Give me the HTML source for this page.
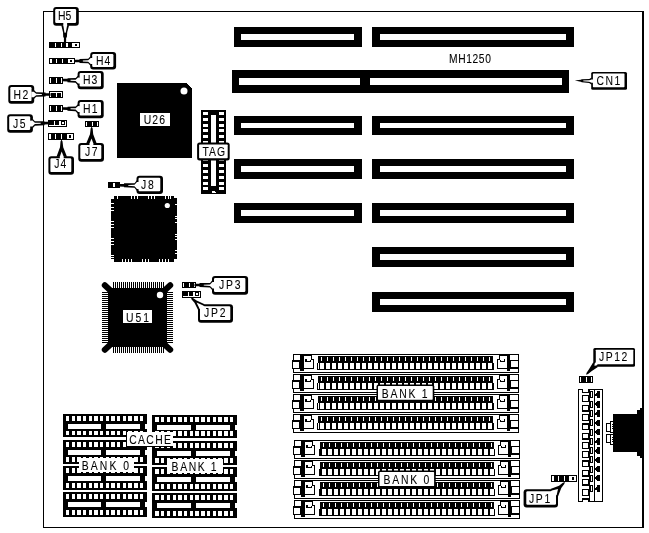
<!DOCTYPE html>
<html><head><meta charset="utf-8"><title>MH1250</title>
<style>html,body{margin:0;padding:0;background:#fff}svg{display:block}text{font-family:"Liberation Sans",Arial,sans-serif}</style>
</head><body>
<svg width="649" height="533" viewBox="0 0 649 533" shape-rendering="crispEdges">
<rect x="0" y="0" width="649" height="533" fill="#fff"/>
<rect x="43" y="11" width="601" height="1" fill="#000" />
<rect x="43" y="11" width="1" height="517" fill="#000" />
<rect x="642" y="11" width="2" height="517" fill="#000" />
<rect x="43" y="527" width="601" height="1" fill="#000" />
<rect x="234" y="27" width="128" height="20" fill="#000" />
<rect x="241" y="34" width="113" height="6" fill="#fff" />
<rect x="234" y="116" width="128" height="19" fill="#000" />
<rect x="241" y="123" width="113" height="5" fill="#fff" />
<rect x="234" y="159" width="128" height="20" fill="#000" />
<rect x="241" y="166" width="113" height="6" fill="#fff" />
<rect x="234" y="203" width="128" height="20" fill="#000" />
<rect x="241" y="210" width="113" height="6" fill="#fff" />
<rect x="372" y="27" width="202" height="20" fill="#000" />
<rect x="380" y="34" width="186" height="6" fill="#fff" />
<rect x="372" y="116" width="202" height="19" fill="#000" />
<rect x="380" y="123" width="186" height="5" fill="#fff" />
<rect x="372" y="159" width="202" height="20" fill="#000" />
<rect x="380" y="166" width="186" height="6" fill="#fff" />
<rect x="372" y="203" width="202" height="20" fill="#000" />
<rect x="380" y="210" width="186" height="6" fill="#fff" />
<rect x="372" y="247" width="202" height="20" fill="#000" />
<rect x="380" y="254" width="186" height="6" fill="#fff" />
<rect x="372" y="292" width="202" height="20" fill="#000" />
<rect x="380" y="299" width="186" height="6" fill="#fff" />
<rect x="232" y="70" width="337" height="23" fill="#000" />
<rect x="239" y="78" width="121" height="7" fill="#fff" />
<rect x="370" y="78" width="192" height="7" fill="#fff" />
<rect x="49" y="42" width="31" height="6" fill="#000" />
<rect x="54.8" y="43" width="1.2" height="4" fill="#fff" />
<rect x="61" y="43" width="1.1" height="4" fill="#fff" />
<rect x="66" y="43" width="1.9" height="4" fill="#fff" />
<rect x="72.1" y="43" width="6.9" height="4" fill="#fff" />
<rect x="74.55" y="44" width="2" height="2" fill="#000" />
<rect x="49" y="58" width="26" height="6" fill="#000" />
<rect x="50.2" y="59" width="1.5" height="4" fill="#fff" />
<rect x="56" y="59" width="1" height="4" fill="#fff" />
<rect x="61.9" y="59" width="1" height="4" fill="#fff" />
<rect x="67.9" y="59" width="6.1" height="4" fill="#fff" />
<rect x="69.95" y="60" width="2" height="2" fill="#000" />
<rect x="48.9" y="77" width="14.1" height="7" fill="#000" />
<rect x="49.9" y="78" width="1" height="5" fill="#fff" />
<rect x="55.55" y="78" width="1.1" height="5" fill="#fff" />
<rect x="60.9" y="78" width="1.1" height="5" fill="#fff" />
<rect x="48.9" y="91" width="14.1" height="6.9" fill="#000" />
<rect x="50" y="92" width="12" height="1" fill="#fff" />
<rect x="50" y="93" width="1" height="4" fill="#fff" />
<rect x="56" y="93" width="1" height="4" fill="#fff" />
<rect x="61" y="93" width="1" height="4" fill="#fff" />
<rect x="48.9" y="105.2" width="14.1" height="6.6" fill="#000" />
<rect x="49.9" y="106.2" width="1" height="4.6" fill="#fff" />
<rect x="55.55" y="106.2" width="1.1" height="4.6" fill="#fff" />
<rect x="60.9" y="106.2" width="1.1" height="4.6" fill="#fff" />
<rect x="47.9" y="120" width="19.1" height="7" fill="#000" />
<rect x="48.9" y="124.8" width="17.1" height="1.2" fill="#fff" />
<rect x="54.1" y="121" width="1" height="3.8" fill="#fff" />
<rect x="58.7" y="121" width="1.1" height="3.8" fill="#fff" />
<rect x="60" y="121" width="6" height="5" fill="#fff" />
<rect x="61.1" y="121" width="3.9" height="3.8" fill="#000" />
<rect x="62.1" y="122" width="1.9" height="1.7" fill="#fff" />
<rect x="85.1" y="121" width="13.9" height="6" fill="#000" />
<rect x="86.1" y="122" width="1" height="4" fill="#fff" />
<rect x="91.65" y="122" width="1.1" height="4" fill="#fff" />
<rect x="96.9" y="122" width="1.1" height="4" fill="#fff" />
<rect x="47.9" y="133.2" width="25.9" height="6.8" fill="#000" />
<rect x="49.1" y="134.2" width="1.8" height="4.8" fill="#fff" />
<rect x="54.8" y="134.2" width="1.2" height="4.8" fill="#fff" />
<rect x="60.8" y="134.2" width="1.2" height="4.8" fill="#fff" />
<rect x="66.9" y="134.2" width="5.9" height="4.8" fill="#fff" />
<rect x="68.85" y="135.2" width="2" height="2.8" fill="#000" />
<rect x="108" y="181.7" width="12.3" height="6.7" fill="#000" />
<rect x="113.2" y="182.7" width="1.6" height="4.7" fill="#fff" />
<rect x="181.9" y="281.9" width="14.1" height="6" fill="#000" />
<rect x="182.9" y="282.9" width="1" height="4" fill="#fff" />
<rect x="188.55" y="282.9" width="1.1" height="4" fill="#fff" />
<rect x="193.9" y="282.9" width="1.1" height="4" fill="#fff" />
<rect x="181.9" y="291" width="19.1" height="7" fill="#000" />
<rect x="182.9" y="295.8" width="17.1" height="1.2" fill="#fff" />
<rect x="188.1" y="292" width="1" height="3.8" fill="#fff" />
<rect x="192.7" y="292" width="1.1" height="3.8" fill="#fff" />
<rect x="194" y="292" width="6" height="5" fill="#fff" />
<rect x="195.1" y="292" width="3.9" height="3.8" fill="#000" />
<rect x="196.1" y="293" width="1.9" height="1.7" fill="#fff" />
<rect x="579" y="376" width="14" height="6.6" fill="#000" />
<rect x="580" y="377" width="1" height="4.6" fill="#fff" />
<rect x="585.6" y="377" width="1.1" height="4.6" fill="#fff" />
<rect x="590.9" y="377" width="1.1" height="4.6" fill="#fff" />
<rect x="551.3" y="475" width="25.7" height="6.6" fill="#000" />
<rect x="552.3" y="476" width="1.2" height="4.6" fill="#fff" />
<rect x="557.5" y="476" width="1.5" height="4.6" fill="#fff" />
<rect x="563.6" y="476" width="1.4" height="4.6" fill="#fff" />
<rect x="569.3" y="476" width="6.7" height="4.6" fill="#fff" />
<rect x="571.65" y="477" width="2" height="2.6" fill="#000" />
<rect x="53.2" y="7" width="25.6" height="18.7" rx="3" ry="3" fill="#000" shape-rendering="geometricPrecision"/>
<rect x="55.2" y="9" width="20.9" height="14" rx="1.2" ry="1.2" fill="#fff" shape-rendering="geometricPrecision"/>
<polygon points="61.30,25.19 63.02,32.17 63.25,37.48 63.95,37.49 63.89,42.49 66.09,42.51 66.15,37.51 66.85,37.52 67.22,32.22 69.10,25.21" fill="#000" shape-rendering="geometricPrecision"/>
<polygon points="63.31,22.81 63.28,25.21 64.42,32.19 64.66,32.75 65.56,32.77 65.82,32.21 67.12,25.19 67.15,22.79" fill="#fff" shape-rendering="geometricPrecision"/>
<rect x="90.2" y="52" width="25.9" height="17.6" rx="3" ry="3" fill="#000" shape-rendering="geometricPrecision"/>
<rect x="92.2" y="54" width="21.2" height="12.9" rx="1.2" ry="1.2" fill="#fff" shape-rendering="geometricPrecision"/>
<polygon points="90.70,56.10 88.20,58.70 79.50,59.00 79.50,59.70 74.50,59.70 74.50,62.30 79.50,62.30 79.50,63.00 88.20,63.30 90.70,65.90" fill="#000" shape-rendering="geometricPrecision"/>
<polygon points="93.10,58.08 90.70,58.08 88.20,60.30 82.85,60.55 82.85,61.45 88.20,61.70 90.70,63.92 93.10,63.92" fill="#fff" shape-rendering="geometricPrecision"/>
<rect x="77.6" y="70.9" width="26.1" height="18.3" rx="3" ry="3" fill="#000" shape-rendering="geometricPrecision"/>
<rect x="79.6" y="72.9" width="21.4" height="13.6" rx="1.2" ry="1.2" fill="#fff" shape-rendering="geometricPrecision"/>
<polygon points="78.13,75.60 75.68,78.12 67.56,78.15 67.54,78.85 62.54,78.68 62.46,81.28 67.45,81.45 67.43,82.15 75.53,82.72 78.07,85.40" fill="#000" shape-rendering="geometricPrecision"/>
<polygon points="80.46,77.66 78.06,77.58 75.62,79.72 70.56,79.80 70.54,80.70 75.58,81.12 78.14,83.42 80.53,83.50" fill="#fff" shape-rendering="geometricPrecision"/>
<rect x="8.3" y="85" width="25.9" height="18.8" rx="3" ry="3" fill="#000" shape-rendering="geometricPrecision"/>
<rect x="10.3" y="87" width="21.2" height="14.1" rx="1.2" ry="1.2" fill="#fff" shape-rendering="geometricPrecision"/>
<polygon points="33.70,89.70 36.20,92.20 45.50,92.50 45.50,93.20 50.50,93.20 50.50,95.80 45.50,95.80 45.50,96.50 36.20,96.80 33.70,99.30" fill="#000" shape-rendering="geometricPrecision"/>
<polygon points="31.30,91.68 33.70,91.68 36.20,93.80 41.85,94.05 41.85,94.95 36.20,95.20 33.70,97.32 31.30,97.32" fill="#fff" shape-rendering="geometricPrecision"/>
<rect x="77.6" y="100" width="26.1" height="18.2" rx="3" ry="3" fill="#000" shape-rendering="geometricPrecision"/>
<rect x="79.6" y="102" width="21.4" height="13.5" rx="1.2" ry="1.2" fill="#fff" shape-rendering="geometricPrecision"/>
<polygon points="78.13,104.10 75.68,106.62 67.56,106.65 67.54,107.35 62.54,107.18 62.46,109.78 67.45,109.95 67.43,110.65 75.53,111.22 78.07,113.90" fill="#000" shape-rendering="geometricPrecision"/>
<polygon points="80.46,106.16 78.06,106.08 75.62,108.22 70.56,108.30 70.54,109.20 75.58,109.62 78.14,111.92 80.53,112.00" fill="#fff" shape-rendering="geometricPrecision"/>
<rect x="7.2" y="114.2" width="25.7" height="18.5" rx="3" ry="3" fill="#000" shape-rendering="geometricPrecision"/>
<rect x="9.2" y="116.2" width="21" height="13.8" rx="1.2" ry="1.2" fill="#fff" shape-rendering="geometricPrecision"/>
<polygon points="32.37,118.60 34.83,121.13 44.44,121.14 44.46,121.84 49.46,121.69 49.54,124.28 44.54,124.43 44.56,125.13 34.97,125.72 32.43,128.40" fill="#000" shape-rendering="geometricPrecision"/>
<polygon points="30.03,120.65 32.43,120.58 34.88,122.73 40.69,122.80 40.71,123.70 34.92,124.12 32.37,126.42 29.97,126.49" fill="#fff" shape-rendering="geometricPrecision"/>
<rect x="78.3" y="143" width="25.7" height="18.7" rx="3" ry="3" fill="#000" shape-rendering="geometricPrecision"/>
<rect x="80.3" y="145" width="21" height="14" rx="1.2" ry="1.2" fill="#fff" shape-rendering="geometricPrecision"/>
<polygon points="86.20,143.48 89.99,134.13 90.67,128.49 91.70,126.50 92.67,128.51 93.19,134.17 96.70,143.52" fill="#000" shape-rendering="geometricPrecision"/>
<polygon points="89.46,145.93 89.50,143.53 91.53,138.40 93.40,143.47 93.36,145.87" fill="#fff" shape-rendering="geometricPrecision"/>
<rect x="48.4" y="156.2" width="25.6" height="18.6" rx="3" ry="3" fill="#000" shape-rendering="geometricPrecision"/>
<rect x="50.4" y="158.2" width="20.9" height="13.9" rx="1.2" ry="1.2" fill="#fff" shape-rendering="geometricPrecision"/>
<polygon points="56.50,156.72 60.01,147.26 60.53,141.51 61.50,139.50 62.53,141.49 63.21,147.22 67.00,156.68" fill="#000" shape-rendering="geometricPrecision"/>
<polygon points="59.83,159.07 59.80,156.67 61.67,151.54 63.70,156.73 63.74,159.13" fill="#fff" shape-rendering="geometricPrecision"/>
<rect x="136.5" y="175.8" width="26.5" height="18.1" rx="3" ry="3" fill="#000" shape-rendering="geometricPrecision"/>
<rect x="138.5" y="177.8" width="21.8" height="13.4" rx="1.2" ry="1.2" fill="#fff" shape-rendering="geometricPrecision"/>
<polygon points="137.01,180.10 134.53,183.17 124.02,183.35 124.01,184.05 119.01,183.99 118.99,186.59 123.98,186.65 123.98,187.35 134.47,187.77 136.99,190.90" fill="#000" shape-rendering="geometricPrecision"/>
<polygon points="139.39,182.11 136.99,182.08 134.51,184.77 128.26,184.95 128.24,185.85 134.49,186.17 137.01,188.92 139.41,188.95" fill="#fff" shape-rendering="geometricPrecision"/>
<rect x="212" y="275.9" width="36.1" height="18.8" rx="3" ry="3" fill="#000" shape-rendering="geometricPrecision"/>
<rect x="214" y="277.9" width="31.4" height="14.1" rx="1.2" ry="1.2" fill="#fff" shape-rendering="geometricPrecision"/>
<polygon points="212.51,280.10 210.03,282.91 199.53,283.06 199.52,283.76 194.52,283.69 194.48,286.29 199.48,286.36 199.47,287.06 209.97,287.51 212.49,290.40" fill="#000" shape-rendering="geometricPrecision"/>
<polygon points="214.88,282.11 212.48,282.08 210.01,284.51 203.76,284.68 203.74,285.57 209.99,285.91 212.52,288.42 214.92,288.45" fill="#fff" shape-rendering="geometricPrecision"/>
<rect x="198" y="304.3" width="35" height="18.5" rx="3" ry="3" fill="#000" shape-rendering="geometricPrecision"/>
<rect x="200" y="306.3" width="30.3" height="13.8" rx="1.2" ry="1.2" fill="#fff" shape-rendering="geometricPrecision"/>
<polygon points="197.99,309.66 194.45,302.80 191.60,299.39 190.80,297.30 192.95,297.91 196.60,300.44 204.61,304.14" fill="#000" shape-rendering="geometricPrecision"/>
<polygon points="201.10,309.82 199.33,308.20 196.58,302.58 203.27,305.60 205.04,307.22" fill="#fff" shape-rendering="geometricPrecision"/>
<rect x="591.2" y="71.9" width="35.8" height="17.8" rx="1.5" ry="1.5" fill="#000" shape-rendering="geometricPrecision"/>
<rect x="592.9" y="73.5" width="31.6" height="13.7" rx="0.6" ry="0.6" fill="#fff" shape-rendering="geometricPrecision"/>
<polygon points="591.72,77.40 589.25,78.98 581.84,79.29 580.82,79.86 574.80,80.60 580.77,81.66 581.76,82.29 589.15,82.98 591.68,84.70" fill="#000" shape-rendering="geometricPrecision"/>
<polygon points="594.07,79.44 591.67,79.38 589.22,80.28 583.26,80.38 583.24,81.27 589.18,81.68 591.73,82.72 594.13,82.78" fill="#fff" shape-rendering="geometricPrecision"/>
<rect x="593.3" y="348.1" width="41.7" height="18.6" rx="1.5" ry="1.5" fill="#000" shape-rendering="geometricPrecision"/>
<rect x="595.8" y="349.7" width="37.5" height="14.5" rx="0.6" ry="0.6" fill="#fff" shape-rendering="geometricPrecision"/>
<polygon points="593.24,362.19 589.13,369.10 586.63,372.66 586.00,374.80 588.10,374.02 591.47,371.28 597.86,366.91" fill="#000" shape-rendering="geometricPrecision"/>
<polygon points="596.33,361.78 594.69,363.54 594.40,365.78 596.41,365.56 598.05,363.81" fill="#fff" shape-rendering="geometricPrecision"/>
<rect x="523.6" y="489.2" width="34.4" height="18.3" rx="3" ry="3" fill="#000" shape-rendering="geometricPrecision"/>
<rect x="526.3" y="491.2" width="29.7" height="13.6" rx="1.2" ry="1.2" fill="#fff" shape-rendering="geometricPrecision"/>
<polygon points="550.37,489.06 559.04,485.63 562.87,482.69 565.00,482.00 564.28,484.12 561.29,487.91 558.13,496.14" fill="#000" shape-rendering="geometricPrecision"/>
<polygon points="550.05,492.15 551.76,490.47 558.01,488.89 556.74,494.73 555.03,496.42" fill="#fff" shape-rendering="geometricPrecision"/>
<polygon points="117,83 186,83 192,89 192,158 117,158" fill="#000"/>
<circle cx="184" cy="91" r="3.5" fill="#fff" shape-rendering="geometricPrecision"/>
<rect x="140.2" y="113.1" width="29.3" height="13.2" fill="#fff" />
<rect x="201" y="110" width="25" height="83.6" fill="#000" />
<rect x="211" y="115" width="5" height="70.6" fill="#fff" />
<polygon points="211.3,193.2 212.6,190.6 214.6,190.6 215.9,193.2" fill="#fff"/>
<rect x="203" y="112" width="5" height="3" fill="#fff" />
<rect x="219" y="112" width="5" height="3" fill="#fff" />
<rect x="203" y="117.8" width="5" height="3" fill="#fff" />
<rect x="219" y="117.8" width="5" height="3" fill="#fff" />
<rect x="203" y="123.6" width="5" height="3" fill="#fff" />
<rect x="219" y="123.6" width="5" height="3" fill="#fff" />
<rect x="203" y="129.4" width="5" height="3" fill="#fff" />
<rect x="219" y="129.4" width="5" height="3" fill="#fff" />
<rect x="203" y="135.2" width="5" height="3" fill="#fff" />
<rect x="219" y="135.2" width="5" height="3" fill="#fff" />
<rect x="203" y="141" width="5" height="3" fill="#fff" />
<rect x="219" y="141" width="5" height="3" fill="#fff" />
<rect x="203" y="146.8" width="5" height="3" fill="#fff" />
<rect x="219" y="146.8" width="5" height="3" fill="#fff" />
<rect x="203" y="152.6" width="5" height="3" fill="#fff" />
<rect x="219" y="152.6" width="5" height="3" fill="#fff" />
<rect x="203" y="158.4" width="5" height="3" fill="#fff" />
<rect x="219" y="158.4" width="5" height="3" fill="#fff" />
<rect x="203" y="164.2" width="5" height="3" fill="#fff" />
<rect x="219" y="164.2" width="5" height="3" fill="#fff" />
<rect x="203" y="170" width="5" height="3" fill="#fff" />
<rect x="219" y="170" width="5" height="3" fill="#fff" />
<rect x="203" y="175.8" width="5" height="3" fill="#fff" />
<rect x="219" y="175.8" width="5" height="3" fill="#fff" />
<rect x="203" y="181.6" width="5" height="3" fill="#fff" />
<rect x="219" y="181.6" width="5" height="3" fill="#fff" />
<rect x="203" y="187.4" width="5" height="3" fill="#fff" />
<rect x="219" y="187.4" width="5" height="3" fill="#fff" />
<rect x="197.1" y="142.6" width="32.6" height="17.9" rx="2.5" ry="2.5" fill="#000" shape-rendering="geometricPrecision"/>
<rect x="199.1" y="144.6" width="28.6" height="13.6" rx="0.7" ry="0.7" fill="#fff" shape-rendering="geometricPrecision"/>
<polygon points="114,195.5 174,195.5 174,198 177,198 177,259 174,259 174,262 114,262 114,259 111,259 111,199 114,199" fill="#000"/>
<rect x="116.8" y="195.5" width="1" height="3" fill="#fff" />
<rect x="131.2" y="195.5" width="1" height="3" fill="#fff" />
<rect x="134.1" y="195.5" width="1" height="3" fill="#fff" />
<rect x="137" y="195.5" width="1" height="3" fill="#fff" />
<rect x="147.8" y="195.5" width="1" height="3" fill="#fff" />
<rect x="150.7" y="195.5" width="1" height="3" fill="#fff" />
<rect x="154" y="195.5" width="1" height="3" fill="#fff" />
<rect x="165.1" y="195.5" width="1" height="3" fill="#fff" />
<rect x="168" y="195.5" width="1" height="3" fill="#fff" />
<rect x="170.4" y="195.5" width="1" height="3" fill="#fff" />
<rect x="121.8" y="259" width="1" height="3" fill="#fff" />
<rect x="124.7" y="259" width="1" height="3" fill="#fff" />
<rect x="127.6" y="259" width="1" height="3" fill="#fff" />
<rect x="131.2" y="259" width="1" height="3" fill="#fff" />
<rect x="142" y="259" width="1" height="3" fill="#fff" />
<rect x="144.9" y="259" width="1" height="3" fill="#fff" />
<rect x="147.8" y="259" width="1" height="3" fill="#fff" />
<rect x="159.3" y="259" width="1" height="3" fill="#fff" />
<rect x="162.2" y="259" width="1" height="3" fill="#fff" />
<rect x="165.1" y="259" width="1" height="3" fill="#fff" />
<rect x="168" y="259" width="1" height="3" fill="#fff" />
<rect x="111" y="203.2" width="3" height="1" fill="#fff" />
<rect x="111" y="206.8" width="3" height="1" fill="#fff" />
<rect x="111" y="209.7" width="3" height="1" fill="#fff" />
<rect x="111" y="220.5" width="3" height="1" fill="#fff" />
<rect x="111" y="223.8" width="3" height="1" fill="#fff" />
<rect x="111" y="227" width="3" height="1" fill="#fff" />
<rect x="111" y="237.8" width="3" height="1" fill="#fff" />
<rect x="111" y="240.7" width="3" height="1" fill="#fff" />
<rect x="111" y="244" width="3" height="1" fill="#fff" />
<rect x="111" y="254.5" width="3" height="1" fill="#fff" />
<rect x="111" y="257.3" width="3" height="1" fill="#fff" />
<rect x="174.5" y="203.9" width="2.5" height="1" fill="#fff" />
<rect x="174.5" y="215.5" width="2.5" height="1" fill="#fff" />
<rect x="174.5" y="218.4" width="2.5" height="1" fill="#fff" />
<rect x="174.5" y="222" width="2.5" height="1" fill="#fff" />
<rect x="174.5" y="233.5" width="2.5" height="1" fill="#fff" />
<rect x="174.5" y="236.4" width="2.5" height="1" fill="#fff" />
<rect x="174.5" y="239.3" width="2.5" height="1" fill="#fff" />
<rect x="174.5" y="250.1" width="2.5" height="1" fill="#fff" />
<rect x="174.5" y="253" width="2.5" height="1" fill="#fff" />
<circle cx="167.3" cy="205.5" r="2.6" fill="#fff" shape-rendering="geometricPrecision"/>
<rect x="108" y="287.5" width="59" height="59.5" fill="#000" />
<rect x="112.5" y="282" width="1" height="6" fill="#000" />
<rect x="112.5" y="347" width="1" height="5.5" fill="#000" />
<rect x="114.5" y="282" width="1" height="6" fill="#000" />
<rect x="114.5" y="347" width="1" height="5.5" fill="#000" />
<rect x="116.5" y="282" width="1" height="6" fill="#000" />
<rect x="116.5" y="347" width="1" height="5.5" fill="#000" />
<rect x="118.5" y="282" width="1" height="6" fill="#000" />
<rect x="118.5" y="347" width="1" height="5.5" fill="#000" />
<rect x="120.5" y="282" width="1" height="6" fill="#000" />
<rect x="120.5" y="347" width="1" height="5.5" fill="#000" />
<rect x="122.5" y="282" width="1" height="6" fill="#000" />
<rect x="122.5" y="347" width="1" height="5.5" fill="#000" />
<rect x="124.5" y="282" width="1" height="6" fill="#000" />
<rect x="124.5" y="347" width="1" height="5.5" fill="#000" />
<rect x="126.5" y="282" width="1" height="6" fill="#000" />
<rect x="126.5" y="347" width="1" height="5.5" fill="#000" />
<rect x="128.5" y="282" width="1" height="6" fill="#000" />
<rect x="128.5" y="347" width="1" height="5.5" fill="#000" />
<rect x="130.5" y="282" width="1" height="6" fill="#000" />
<rect x="130.5" y="347" width="1" height="5.5" fill="#000" />
<rect x="132.5" y="282" width="1" height="6" fill="#000" />
<rect x="132.5" y="347" width="1" height="5.5" fill="#000" />
<rect x="134.5" y="282" width="1" height="6" fill="#000" />
<rect x="134.5" y="347" width="1" height="5.5" fill="#000" />
<rect x="136.5" y="282" width="1" height="6" fill="#000" />
<rect x="136.5" y="347" width="1" height="5.5" fill="#000" />
<rect x="138.5" y="282" width="1" height="6" fill="#000" />
<rect x="138.5" y="347" width="1" height="5.5" fill="#000" />
<rect x="140.5" y="282" width="1" height="6" fill="#000" />
<rect x="140.5" y="347" width="1" height="5.5" fill="#000" />
<rect x="142.5" y="282" width="1" height="6" fill="#000" />
<rect x="142.5" y="347" width="1" height="5.5" fill="#000" />
<rect x="144.5" y="282" width="1" height="6" fill="#000" />
<rect x="144.5" y="347" width="1" height="5.5" fill="#000" />
<rect x="146.5" y="282" width="1" height="6" fill="#000" />
<rect x="146.5" y="347" width="1" height="5.5" fill="#000" />
<rect x="148.5" y="282" width="1" height="6" fill="#000" />
<rect x="148.5" y="347" width="1" height="5.5" fill="#000" />
<rect x="150.5" y="282" width="1" height="6" fill="#000" />
<rect x="150.5" y="347" width="1" height="5.5" fill="#000" />
<rect x="152.5" y="282" width="1" height="6" fill="#000" />
<rect x="152.5" y="347" width="1" height="5.5" fill="#000" />
<rect x="154.5" y="282" width="1" height="6" fill="#000" />
<rect x="154.5" y="347" width="1" height="5.5" fill="#000" />
<rect x="156.5" y="282" width="1" height="6" fill="#000" />
<rect x="156.5" y="347" width="1" height="5.5" fill="#000" />
<rect x="158.5" y="282" width="1" height="6" fill="#000" />
<rect x="158.5" y="347" width="1" height="5.5" fill="#000" />
<rect x="160.5" y="282" width="1" height="6" fill="#000" />
<rect x="160.5" y="347" width="1" height="5.5" fill="#000" />
<rect x="162.5" y="282" width="1" height="6" fill="#000" />
<rect x="162.5" y="347" width="1" height="5.5" fill="#000" />
<rect x="102" y="292" width="6" height="1" fill="#000" />
<rect x="167" y="292" width="6" height="1" fill="#000" />
<rect x="102" y="294" width="6" height="1" fill="#000" />
<rect x="167" y="294" width="6" height="1" fill="#000" />
<rect x="102" y="296" width="6" height="1" fill="#000" />
<rect x="167" y="296" width="6" height="1" fill="#000" />
<rect x="102" y="298" width="6" height="1" fill="#000" />
<rect x="167" y="298" width="6" height="1" fill="#000" />
<rect x="102" y="300" width="6" height="1" fill="#000" />
<rect x="167" y="300" width="6" height="1" fill="#000" />
<rect x="102" y="302" width="6" height="1" fill="#000" />
<rect x="167" y="302" width="6" height="1" fill="#000" />
<rect x="102" y="304" width="6" height="1" fill="#000" />
<rect x="167" y="304" width="6" height="1" fill="#000" />
<rect x="102" y="306" width="6" height="1" fill="#000" />
<rect x="167" y="306" width="6" height="1" fill="#000" />
<rect x="102" y="308" width="6" height="1" fill="#000" />
<rect x="167" y="308" width="6" height="1" fill="#000" />
<rect x="102" y="310" width="6" height="1" fill="#000" />
<rect x="167" y="310" width="6" height="1" fill="#000" />
<rect x="102" y="312" width="6" height="1" fill="#000" />
<rect x="167" y="312" width="6" height="1" fill="#000" />
<rect x="102" y="314" width="6" height="1" fill="#000" />
<rect x="167" y="314" width="6" height="1" fill="#000" />
<rect x="102" y="316" width="6" height="1" fill="#000" />
<rect x="167" y="316" width="6" height="1" fill="#000" />
<rect x="102" y="318" width="6" height="1" fill="#000" />
<rect x="167" y="318" width="6" height="1" fill="#000" />
<rect x="102" y="320" width="6" height="1" fill="#000" />
<rect x="167" y="320" width="6" height="1" fill="#000" />
<rect x="102" y="322" width="6" height="1" fill="#000" />
<rect x="167" y="322" width="6" height="1" fill="#000" />
<rect x="102" y="324" width="6" height="1" fill="#000" />
<rect x="167" y="324" width="6" height="1" fill="#000" />
<rect x="102" y="326" width="6" height="1" fill="#000" />
<rect x="167" y="326" width="6" height="1" fill="#000" />
<rect x="102" y="328" width="6" height="1" fill="#000" />
<rect x="167" y="328" width="6" height="1" fill="#000" />
<rect x="102" y="330" width="6" height="1" fill="#000" />
<rect x="167" y="330" width="6" height="1" fill="#000" />
<rect x="102" y="332" width="6" height="1" fill="#000" />
<rect x="167" y="332" width="6" height="1" fill="#000" />
<rect x="102" y="334" width="6" height="1" fill="#000" />
<rect x="167" y="334" width="6" height="1" fill="#000" />
<rect x="102" y="336" width="6" height="1" fill="#000" />
<rect x="167" y="336" width="6" height="1" fill="#000" />
<rect x="102" y="338" width="6" height="1" fill="#000" />
<rect x="167" y="338" width="6" height="1" fill="#000" />
<rect x="102" y="340" width="6" height="1" fill="#000" />
<rect x="167" y="340" width="6" height="1" fill="#000" />
<rect x="102" y="342" width="6" height="1" fill="#000" />
<rect x="167" y="342" width="6" height="1" fill="#000" />
<g stroke="#000" fill="none" stroke-width="6" stroke-linecap="round" shape-rendering="geometricPrecision">
<line x1="104.8" y1="285.3" x2="111" y2="291"/>
<line x1="170.2" y1="285.3" x2="164" y2="291"/>
<line x1="104.8" y1="349.7" x2="111" y2="344"/>
<line x1="170.2" y1="349.7" x2="164" y2="344"/>
</g>
<circle cx="160" cy="295" r="3.2" fill="#fff" shape-rendering="geometricPrecision"/>
<rect x="123" y="310" width="29" height="13.4" fill="#fff" />
<rect x="63" y="414.2" width="84.2" height="23.2" fill="#000" />
<rect x="65.9" y="416.2" width="3.38571" height="4.8" fill="#fff" />
<rect x="65.9" y="430.6" width="3.38571" height="4.8" fill="#fff" />
<rect x="71.5857" y="416.2" width="3.38571" height="4.8" fill="#fff" />
<rect x="71.5857" y="430.6" width="3.38571" height="4.8" fill="#fff" />
<rect x="77.2714" y="416.2" width="3.38571" height="4.8" fill="#fff" />
<rect x="77.2714" y="430.6" width="3.38571" height="4.8" fill="#fff" />
<rect x="82.9571" y="416.2" width="3.38571" height="4.8" fill="#fff" />
<rect x="82.9571" y="430.6" width="3.38571" height="4.8" fill="#fff" />
<rect x="88.6429" y="416.2" width="3.38571" height="4.8" fill="#fff" />
<rect x="88.6429" y="430.6" width="3.38571" height="4.8" fill="#fff" />
<rect x="94.3286" y="416.2" width="3.38571" height="4.8" fill="#fff" />
<rect x="94.3286" y="430.6" width="3.38571" height="4.8" fill="#fff" />
<rect x="100.014" y="416.2" width="3.38571" height="4.8" fill="#fff" />
<rect x="100.014" y="430.6" width="3.38571" height="4.8" fill="#fff" />
<rect x="105.7" y="416.2" width="3.38571" height="4.8" fill="#fff" />
<rect x="105.7" y="430.6" width="3.38571" height="4.8" fill="#fff" />
<rect x="111.386" y="416.2" width="3.38571" height="4.8" fill="#fff" />
<rect x="111.386" y="430.6" width="3.38571" height="4.8" fill="#fff" />
<rect x="117.071" y="416.2" width="3.38571" height="4.8" fill="#fff" />
<rect x="117.071" y="430.6" width="3.38571" height="4.8" fill="#fff" />
<rect x="122.757" y="416.2" width="3.38571" height="4.8" fill="#fff" />
<rect x="122.757" y="430.6" width="3.38571" height="4.8" fill="#fff" />
<rect x="128.443" y="416.2" width="3.38571" height="4.8" fill="#fff" />
<rect x="128.443" y="430.6" width="3.38571" height="4.8" fill="#fff" />
<rect x="134.129" y="416.2" width="3.38571" height="4.8" fill="#fff" />
<rect x="134.129" y="430.6" width="3.38571" height="4.8" fill="#fff" />
<rect x="139.814" y="416.2" width="3.38571" height="4.8" fill="#fff" />
<rect x="139.814" y="430.6" width="3.38571" height="4.8" fill="#fff" />
<rect x="68" y="424.2" width="32.89" height="4.7" fill="#fff" />
<rect x="105.942" y="424.2" width="33.958" height="4.7" fill="#fff" />
<rect x="144.9" y="423.7" width="2.3" height="5.5" fill="#fff" />
<rect x="63" y="440.3" width="84.2" height="23.5" fill="#000" />
<rect x="65.9" y="442.3" width="3.38571" height="4.8" fill="#fff" />
<rect x="65.9" y="457" width="3.38571" height="4.8" fill="#fff" />
<rect x="71.5857" y="442.3" width="3.38571" height="4.8" fill="#fff" />
<rect x="71.5857" y="457" width="3.38571" height="4.8" fill="#fff" />
<rect x="77.2714" y="442.3" width="3.38571" height="4.8" fill="#fff" />
<rect x="77.2714" y="457" width="3.38571" height="4.8" fill="#fff" />
<rect x="82.9571" y="442.3" width="3.38571" height="4.8" fill="#fff" />
<rect x="82.9571" y="457" width="3.38571" height="4.8" fill="#fff" />
<rect x="88.6429" y="442.3" width="3.38571" height="4.8" fill="#fff" />
<rect x="88.6429" y="457" width="3.38571" height="4.8" fill="#fff" />
<rect x="94.3286" y="442.3" width="3.38571" height="4.8" fill="#fff" />
<rect x="94.3286" y="457" width="3.38571" height="4.8" fill="#fff" />
<rect x="100.014" y="442.3" width="3.38571" height="4.8" fill="#fff" />
<rect x="100.014" y="457" width="3.38571" height="4.8" fill="#fff" />
<rect x="105.7" y="442.3" width="3.38571" height="4.8" fill="#fff" />
<rect x="105.7" y="457" width="3.38571" height="4.8" fill="#fff" />
<rect x="111.386" y="442.3" width="3.38571" height="4.8" fill="#fff" />
<rect x="111.386" y="457" width="3.38571" height="4.8" fill="#fff" />
<rect x="117.071" y="442.3" width="3.38571" height="4.8" fill="#fff" />
<rect x="117.071" y="457" width="3.38571" height="4.8" fill="#fff" />
<rect x="122.757" y="442.3" width="3.38571" height="4.8" fill="#fff" />
<rect x="122.757" y="457" width="3.38571" height="4.8" fill="#fff" />
<rect x="128.443" y="442.3" width="3.38571" height="4.8" fill="#fff" />
<rect x="128.443" y="457" width="3.38571" height="4.8" fill="#fff" />
<rect x="134.129" y="442.3" width="3.38571" height="4.8" fill="#fff" />
<rect x="134.129" y="457" width="3.38571" height="4.8" fill="#fff" />
<rect x="139.814" y="442.3" width="3.38571" height="4.8" fill="#fff" />
<rect x="139.814" y="457" width="3.38571" height="4.8" fill="#fff" />
<rect x="68" y="450.3" width="32.89" height="4.7" fill="#fff" />
<rect x="105.942" y="450.3" width="33.958" height="4.7" fill="#fff" />
<rect x="144.9" y="449.8" width="2.3" height="5.5" fill="#fff" />
<rect x="63" y="466.3" width="84.2" height="23.9" fill="#000" />
<rect x="65.9" y="468.3" width="3.38571" height="4.8" fill="#fff" />
<rect x="65.9" y="483.4" width="3.38571" height="4.8" fill="#fff" />
<rect x="71.5857" y="468.3" width="3.38571" height="4.8" fill="#fff" />
<rect x="71.5857" y="483.4" width="3.38571" height="4.8" fill="#fff" />
<rect x="77.2714" y="468.3" width="3.38571" height="4.8" fill="#fff" />
<rect x="77.2714" y="483.4" width="3.38571" height="4.8" fill="#fff" />
<rect x="82.9571" y="468.3" width="3.38571" height="4.8" fill="#fff" />
<rect x="82.9571" y="483.4" width="3.38571" height="4.8" fill="#fff" />
<rect x="88.6429" y="468.3" width="3.38571" height="4.8" fill="#fff" />
<rect x="88.6429" y="483.4" width="3.38571" height="4.8" fill="#fff" />
<rect x="94.3286" y="468.3" width="3.38571" height="4.8" fill="#fff" />
<rect x="94.3286" y="483.4" width="3.38571" height="4.8" fill="#fff" />
<rect x="100.014" y="468.3" width="3.38571" height="4.8" fill="#fff" />
<rect x="100.014" y="483.4" width="3.38571" height="4.8" fill="#fff" />
<rect x="105.7" y="468.3" width="3.38571" height="4.8" fill="#fff" />
<rect x="105.7" y="483.4" width="3.38571" height="4.8" fill="#fff" />
<rect x="111.386" y="468.3" width="3.38571" height="4.8" fill="#fff" />
<rect x="111.386" y="483.4" width="3.38571" height="4.8" fill="#fff" />
<rect x="117.071" y="468.3" width="3.38571" height="4.8" fill="#fff" />
<rect x="117.071" y="483.4" width="3.38571" height="4.8" fill="#fff" />
<rect x="122.757" y="468.3" width="3.38571" height="4.8" fill="#fff" />
<rect x="122.757" y="483.4" width="3.38571" height="4.8" fill="#fff" />
<rect x="128.443" y="468.3" width="3.38571" height="4.8" fill="#fff" />
<rect x="128.443" y="483.4" width="3.38571" height="4.8" fill="#fff" />
<rect x="134.129" y="468.3" width="3.38571" height="4.8" fill="#fff" />
<rect x="134.129" y="483.4" width="3.38571" height="4.8" fill="#fff" />
<rect x="139.814" y="468.3" width="3.38571" height="4.8" fill="#fff" />
<rect x="139.814" y="483.4" width="3.38571" height="4.8" fill="#fff" />
<rect x="68" y="476.3" width="32.89" height="4.7" fill="#fff" />
<rect x="105.942" y="476.3" width="33.958" height="4.7" fill="#fff" />
<rect x="144.9" y="475.8" width="2.3" height="5.5" fill="#fff" />
<rect x="63" y="492.4" width="84.2" height="24.4" fill="#000" />
<rect x="65.9" y="494.4" width="3.38571" height="4.8" fill="#fff" />
<rect x="65.9" y="510" width="3.38571" height="4.8" fill="#fff" />
<rect x="71.5857" y="494.4" width="3.38571" height="4.8" fill="#fff" />
<rect x="71.5857" y="510" width="3.38571" height="4.8" fill="#fff" />
<rect x="77.2714" y="494.4" width="3.38571" height="4.8" fill="#fff" />
<rect x="77.2714" y="510" width="3.38571" height="4.8" fill="#fff" />
<rect x="82.9571" y="494.4" width="3.38571" height="4.8" fill="#fff" />
<rect x="82.9571" y="510" width="3.38571" height="4.8" fill="#fff" />
<rect x="88.6429" y="494.4" width="3.38571" height="4.8" fill="#fff" />
<rect x="88.6429" y="510" width="3.38571" height="4.8" fill="#fff" />
<rect x="94.3286" y="494.4" width="3.38571" height="4.8" fill="#fff" />
<rect x="94.3286" y="510" width="3.38571" height="4.8" fill="#fff" />
<rect x="100.014" y="494.4" width="3.38571" height="4.8" fill="#fff" />
<rect x="100.014" y="510" width="3.38571" height="4.8" fill="#fff" />
<rect x="105.7" y="494.4" width="3.38571" height="4.8" fill="#fff" />
<rect x="105.7" y="510" width="3.38571" height="4.8" fill="#fff" />
<rect x="111.386" y="494.4" width="3.38571" height="4.8" fill="#fff" />
<rect x="111.386" y="510" width="3.38571" height="4.8" fill="#fff" />
<rect x="117.071" y="494.4" width="3.38571" height="4.8" fill="#fff" />
<rect x="117.071" y="510" width="3.38571" height="4.8" fill="#fff" />
<rect x="122.757" y="494.4" width="3.38571" height="4.8" fill="#fff" />
<rect x="122.757" y="510" width="3.38571" height="4.8" fill="#fff" />
<rect x="128.443" y="494.4" width="3.38571" height="4.8" fill="#fff" />
<rect x="128.443" y="510" width="3.38571" height="4.8" fill="#fff" />
<rect x="134.129" y="494.4" width="3.38571" height="4.8" fill="#fff" />
<rect x="134.129" y="510" width="3.38571" height="4.8" fill="#fff" />
<rect x="139.814" y="494.4" width="3.38571" height="4.8" fill="#fff" />
<rect x="139.814" y="510" width="3.38571" height="4.8" fill="#fff" />
<rect x="68" y="502.4" width="32.89" height="4.7" fill="#fff" />
<rect x="105.942" y="502.4" width="33.958" height="4.7" fill="#fff" />
<rect x="144.9" y="501.9" width="2.3" height="5.5" fill="#fff" />
<rect x="152.4" y="415" width="84.9" height="23.1" fill="#000" />
<rect x="155.3" y="417" width="3.43571" height="4.8" fill="#fff" />
<rect x="155.3" y="431.3" width="3.43571" height="4.8" fill="#fff" />
<rect x="161.036" y="417" width="3.43571" height="4.8" fill="#fff" />
<rect x="161.036" y="431.3" width="3.43571" height="4.8" fill="#fff" />
<rect x="166.771" y="417" width="3.43571" height="4.8" fill="#fff" />
<rect x="166.771" y="431.3" width="3.43571" height="4.8" fill="#fff" />
<rect x="172.507" y="417" width="3.43571" height="4.8" fill="#fff" />
<rect x="172.507" y="431.3" width="3.43571" height="4.8" fill="#fff" />
<rect x="178.243" y="417" width="3.43571" height="4.8" fill="#fff" />
<rect x="178.243" y="431.3" width="3.43571" height="4.8" fill="#fff" />
<rect x="183.979" y="417" width="3.43571" height="4.8" fill="#fff" />
<rect x="183.979" y="431.3" width="3.43571" height="4.8" fill="#fff" />
<rect x="189.714" y="417" width="3.43571" height="4.8" fill="#fff" />
<rect x="189.714" y="431.3" width="3.43571" height="4.8" fill="#fff" />
<rect x="195.45" y="417" width="3.43571" height="4.8" fill="#fff" />
<rect x="195.45" y="431.3" width="3.43571" height="4.8" fill="#fff" />
<rect x="201.186" y="417" width="3.43571" height="4.8" fill="#fff" />
<rect x="201.186" y="431.3" width="3.43571" height="4.8" fill="#fff" />
<rect x="206.921" y="417" width="3.43571" height="4.8" fill="#fff" />
<rect x="206.921" y="431.3" width="3.43571" height="4.8" fill="#fff" />
<rect x="212.657" y="417" width="3.43571" height="4.8" fill="#fff" />
<rect x="212.657" y="431.3" width="3.43571" height="4.8" fill="#fff" />
<rect x="218.393" y="417" width="3.43571" height="4.8" fill="#fff" />
<rect x="218.393" y="431.3" width="3.43571" height="4.8" fill="#fff" />
<rect x="224.129" y="417" width="3.43571" height="4.8" fill="#fff" />
<rect x="224.129" y="431.3" width="3.43571" height="4.8" fill="#fff" />
<rect x="229.864" y="417" width="3.43571" height="4.8" fill="#fff" />
<rect x="229.864" y="431.3" width="3.43571" height="4.8" fill="#fff" />
<rect x="157.4" y="425" width="33.205" height="4.7" fill="#fff" />
<rect x="195.699" y="425" width="34.301" height="4.7" fill="#fff" />
<rect x="235" y="424.5" width="2.3" height="5.5" fill="#fff" />
<rect x="152.4" y="441.2" width="84.9" height="23.4" fill="#000" />
<rect x="155.3" y="443.2" width="3.43571" height="4.8" fill="#fff" />
<rect x="155.3" y="457.8" width="3.43571" height="4.8" fill="#fff" />
<rect x="161.036" y="443.2" width="3.43571" height="4.8" fill="#fff" />
<rect x="161.036" y="457.8" width="3.43571" height="4.8" fill="#fff" />
<rect x="166.771" y="443.2" width="3.43571" height="4.8" fill="#fff" />
<rect x="166.771" y="457.8" width="3.43571" height="4.8" fill="#fff" />
<rect x="172.507" y="443.2" width="3.43571" height="4.8" fill="#fff" />
<rect x="172.507" y="457.8" width="3.43571" height="4.8" fill="#fff" />
<rect x="178.243" y="443.2" width="3.43571" height="4.8" fill="#fff" />
<rect x="178.243" y="457.8" width="3.43571" height="4.8" fill="#fff" />
<rect x="183.979" y="443.2" width="3.43571" height="4.8" fill="#fff" />
<rect x="183.979" y="457.8" width="3.43571" height="4.8" fill="#fff" />
<rect x="189.714" y="443.2" width="3.43571" height="4.8" fill="#fff" />
<rect x="189.714" y="457.8" width="3.43571" height="4.8" fill="#fff" />
<rect x="195.45" y="443.2" width="3.43571" height="4.8" fill="#fff" />
<rect x="195.45" y="457.8" width="3.43571" height="4.8" fill="#fff" />
<rect x="201.186" y="443.2" width="3.43571" height="4.8" fill="#fff" />
<rect x="201.186" y="457.8" width="3.43571" height="4.8" fill="#fff" />
<rect x="206.921" y="443.2" width="3.43571" height="4.8" fill="#fff" />
<rect x="206.921" y="457.8" width="3.43571" height="4.8" fill="#fff" />
<rect x="212.657" y="443.2" width="3.43571" height="4.8" fill="#fff" />
<rect x="212.657" y="457.8" width="3.43571" height="4.8" fill="#fff" />
<rect x="218.393" y="443.2" width="3.43571" height="4.8" fill="#fff" />
<rect x="218.393" y="457.8" width="3.43571" height="4.8" fill="#fff" />
<rect x="224.129" y="443.2" width="3.43571" height="4.8" fill="#fff" />
<rect x="224.129" y="457.8" width="3.43571" height="4.8" fill="#fff" />
<rect x="229.864" y="443.2" width="3.43571" height="4.8" fill="#fff" />
<rect x="229.864" y="457.8" width="3.43571" height="4.8" fill="#fff" />
<rect x="157.4" y="451.2" width="33.205" height="4.7" fill="#fff" />
<rect x="195.699" y="451.2" width="34.301" height="4.7" fill="#fff" />
<rect x="235" y="450.7" width="2.3" height="5.5" fill="#fff" />
<rect x="152.4" y="467.3" width="84.9" height="23.7" fill="#000" />
<rect x="155.3" y="469.3" width="3.43571" height="4.8" fill="#fff" />
<rect x="155.3" y="484.2" width="3.43571" height="4.8" fill="#fff" />
<rect x="161.036" y="469.3" width="3.43571" height="4.8" fill="#fff" />
<rect x="161.036" y="484.2" width="3.43571" height="4.8" fill="#fff" />
<rect x="166.771" y="469.3" width="3.43571" height="4.8" fill="#fff" />
<rect x="166.771" y="484.2" width="3.43571" height="4.8" fill="#fff" />
<rect x="172.507" y="469.3" width="3.43571" height="4.8" fill="#fff" />
<rect x="172.507" y="484.2" width="3.43571" height="4.8" fill="#fff" />
<rect x="178.243" y="469.3" width="3.43571" height="4.8" fill="#fff" />
<rect x="178.243" y="484.2" width="3.43571" height="4.8" fill="#fff" />
<rect x="183.979" y="469.3" width="3.43571" height="4.8" fill="#fff" />
<rect x="183.979" y="484.2" width="3.43571" height="4.8" fill="#fff" />
<rect x="189.714" y="469.3" width="3.43571" height="4.8" fill="#fff" />
<rect x="189.714" y="484.2" width="3.43571" height="4.8" fill="#fff" />
<rect x="195.45" y="469.3" width="3.43571" height="4.8" fill="#fff" />
<rect x="195.45" y="484.2" width="3.43571" height="4.8" fill="#fff" />
<rect x="201.186" y="469.3" width="3.43571" height="4.8" fill="#fff" />
<rect x="201.186" y="484.2" width="3.43571" height="4.8" fill="#fff" />
<rect x="206.921" y="469.3" width="3.43571" height="4.8" fill="#fff" />
<rect x="206.921" y="484.2" width="3.43571" height="4.8" fill="#fff" />
<rect x="212.657" y="469.3" width="3.43571" height="4.8" fill="#fff" />
<rect x="212.657" y="484.2" width="3.43571" height="4.8" fill="#fff" />
<rect x="218.393" y="469.3" width="3.43571" height="4.8" fill="#fff" />
<rect x="218.393" y="484.2" width="3.43571" height="4.8" fill="#fff" />
<rect x="224.129" y="469.3" width="3.43571" height="4.8" fill="#fff" />
<rect x="224.129" y="484.2" width="3.43571" height="4.8" fill="#fff" />
<rect x="229.864" y="469.3" width="3.43571" height="4.8" fill="#fff" />
<rect x="229.864" y="484.2" width="3.43571" height="4.8" fill="#fff" />
<rect x="157.4" y="477.3" width="33.205" height="4.7" fill="#fff" />
<rect x="195.699" y="477.3" width="34.301" height="4.7" fill="#fff" />
<rect x="235" y="476.8" width="2.3" height="5.5" fill="#fff" />
<rect x="152.4" y="493.4" width="84.9" height="24.2" fill="#000" />
<rect x="155.3" y="495.4" width="3.43571" height="4.8" fill="#fff" />
<rect x="155.3" y="510.8" width="3.43571" height="4.8" fill="#fff" />
<rect x="161.036" y="495.4" width="3.43571" height="4.8" fill="#fff" />
<rect x="161.036" y="510.8" width="3.43571" height="4.8" fill="#fff" />
<rect x="166.771" y="495.4" width="3.43571" height="4.8" fill="#fff" />
<rect x="166.771" y="510.8" width="3.43571" height="4.8" fill="#fff" />
<rect x="172.507" y="495.4" width="3.43571" height="4.8" fill="#fff" />
<rect x="172.507" y="510.8" width="3.43571" height="4.8" fill="#fff" />
<rect x="178.243" y="495.4" width="3.43571" height="4.8" fill="#fff" />
<rect x="178.243" y="510.8" width="3.43571" height="4.8" fill="#fff" />
<rect x="183.979" y="495.4" width="3.43571" height="4.8" fill="#fff" />
<rect x="183.979" y="510.8" width="3.43571" height="4.8" fill="#fff" />
<rect x="189.714" y="495.4" width="3.43571" height="4.8" fill="#fff" />
<rect x="189.714" y="510.8" width="3.43571" height="4.8" fill="#fff" />
<rect x="195.45" y="495.4" width="3.43571" height="4.8" fill="#fff" />
<rect x="195.45" y="510.8" width="3.43571" height="4.8" fill="#fff" />
<rect x="201.186" y="495.4" width="3.43571" height="4.8" fill="#fff" />
<rect x="201.186" y="510.8" width="3.43571" height="4.8" fill="#fff" />
<rect x="206.921" y="495.4" width="3.43571" height="4.8" fill="#fff" />
<rect x="206.921" y="510.8" width="3.43571" height="4.8" fill="#fff" />
<rect x="212.657" y="495.4" width="3.43571" height="4.8" fill="#fff" />
<rect x="212.657" y="510.8" width="3.43571" height="4.8" fill="#fff" />
<rect x="218.393" y="495.4" width="3.43571" height="4.8" fill="#fff" />
<rect x="218.393" y="510.8" width="3.43571" height="4.8" fill="#fff" />
<rect x="224.129" y="495.4" width="3.43571" height="4.8" fill="#fff" />
<rect x="224.129" y="510.8" width="3.43571" height="4.8" fill="#fff" />
<rect x="229.864" y="495.4" width="3.43571" height="4.8" fill="#fff" />
<rect x="229.864" y="510.8" width="3.43571" height="4.8" fill="#fff" />
<rect x="157.4" y="503.4" width="33.205" height="4.7" fill="#fff" />
<rect x="195.699" y="503.4" width="34.301" height="4.7" fill="#fff" />
<rect x="235" y="502.9" width="2.3" height="5.5" fill="#fff" />
<rect x="126" y="431.9" width="47" height="14.7" fill="#000" />
<rect x="127.2" y="431.9" width="45.8" height="13.8" fill="#fff" />
<rect x="78.6" y="458" width="55" height="14" fill="#fff" />
<rect x="167.4" y="459.3" width="55.5" height="14" fill="#fff" />
<rect x="293.5" y="354.5" width="225" height="17.5" fill="#fff" stroke="#000" stroke-width="1"/>
<rect x="292.5" y="361" width="7.5" height="7.5" fill="#fff" stroke="#000" stroke-width="1.2"/>
<rect x="300" y="354" width="3.8" height="16.7" fill="#000" />
<path d="M303.8,355.6 h7.5 v4.2 h2.5 v9 h-10" fill="#fff" stroke="#000" stroke-width="1.2"/>
<path d="M306,358.5 v3 h4.4 v-2" fill="none" stroke="#000" stroke-width="1.2"/>
<rect x="510.3" y="360.5" width="8.2" height="7.5" fill="#fff" stroke="#000" stroke-width="1.2"/>
<rect x="507" y="354" width="2.6" height="16.7" fill="#000" />
<path d="M507,355.6 h-7.3 v4.2 h-2.5 v9 h9.8" fill="#fff" stroke="#000" stroke-width="1.2"/>
<path d="M504.8,358.5 v3 h-4.4 v-2" fill="none" stroke="#000" stroke-width="1.2"/>
<rect x="318" y="356.2" width="175" height="6.8" fill="#000" />
<rect x="317" y="362.6" width="176.8" height="7.2" fill="#000" />
<rect x="318" y="363" width="1" height="6" fill="#fff" />
<rect x="320" y="362.8" width="4" height="6.2" fill="#fff" />
<rect x="321.2" y="357.1" width="1.2" height="3.9" fill="#fff" />
<rect x="326" y="362.8" width="4" height="6.2" fill="#fff" />
<rect x="327.2" y="357.1" width="1.2" height="3.9" fill="#fff" />
<rect x="332" y="362.8" width="4" height="6.2" fill="#fff" />
<rect x="333.2" y="357.1" width="1.2" height="3.9" fill="#fff" />
<rect x="338" y="362.8" width="4" height="6.2" fill="#fff" />
<rect x="339.2" y="357.1" width="1.2" height="3.9" fill="#fff" />
<rect x="344" y="362.8" width="4" height="6.2" fill="#fff" />
<rect x="345.2" y="357.1" width="1.2" height="3.9" fill="#fff" />
<rect x="350" y="362.8" width="4" height="6.2" fill="#fff" />
<rect x="351.2" y="357.1" width="1.2" height="3.9" fill="#fff" />
<rect x="356" y="362.8" width="4" height="6.2" fill="#fff" />
<rect x="357.2" y="357.1" width="1.2" height="3.9" fill="#fff" />
<rect x="362" y="362.8" width="4" height="6.2" fill="#fff" />
<rect x="363.2" y="357.1" width="1.2" height="3.9" fill="#fff" />
<rect x="368" y="362.8" width="4" height="6.2" fill="#fff" />
<rect x="369.2" y="357.1" width="1.2" height="3.9" fill="#fff" />
<rect x="374" y="362.8" width="4" height="6.2" fill="#fff" />
<rect x="375.2" y="357.1" width="1.2" height="3.9" fill="#fff" />
<rect x="380" y="362.8" width="4" height="6.2" fill="#fff" />
<rect x="381.2" y="357.1" width="1.2" height="3.9" fill="#fff" />
<rect x="386" y="362.8" width="4" height="6.2" fill="#fff" />
<rect x="387.2" y="357.1" width="1.2" height="3.9" fill="#fff" />
<rect x="392" y="362.8" width="4" height="6.2" fill="#fff" />
<rect x="393.2" y="357.1" width="1.2" height="3.9" fill="#fff" />
<rect x="398" y="362.8" width="4" height="6.2" fill="#fff" />
<rect x="399.2" y="357.1" width="1.2" height="3.9" fill="#fff" />
<rect x="404" y="362.8" width="4" height="6.2" fill="#fff" />
<rect x="405.2" y="357.1" width="1.2" height="3.9" fill="#fff" />
<rect x="410" y="362.8" width="4" height="6.2" fill="#fff" />
<rect x="411.2" y="357.1" width="1.2" height="3.9" fill="#fff" />
<rect x="416" y="362.8" width="4" height="6.2" fill="#fff" />
<rect x="417.2" y="357.1" width="1.2" height="3.9" fill="#fff" />
<rect x="422" y="362.8" width="4" height="6.2" fill="#fff" />
<rect x="423.2" y="357.1" width="1.2" height="3.9" fill="#fff" />
<rect x="428" y="362.8" width="4" height="6.2" fill="#fff" />
<rect x="429.2" y="357.1" width="1.2" height="3.9" fill="#fff" />
<rect x="434" y="362.8" width="4" height="6.2" fill="#fff" />
<rect x="435.2" y="357.1" width="1.2" height="3.9" fill="#fff" />
<rect x="440" y="362.8" width="4" height="6.2" fill="#fff" />
<rect x="441.2" y="357.1" width="1.2" height="3.9" fill="#fff" />
<rect x="446" y="362.8" width="4" height="6.2" fill="#fff" />
<rect x="447.2" y="357.1" width="1.2" height="3.9" fill="#fff" />
<rect x="452" y="362.8" width="4" height="6.2" fill="#fff" />
<rect x="453.2" y="357.1" width="1.2" height="3.9" fill="#fff" />
<rect x="458" y="362.8" width="4" height="6.2" fill="#fff" />
<rect x="459.2" y="357.1" width="1.2" height="3.9" fill="#fff" />
<rect x="464" y="362.8" width="4" height="6.2" fill="#fff" />
<rect x="465.2" y="357.1" width="1.2" height="3.9" fill="#fff" />
<rect x="470" y="362.8" width="4" height="6.2" fill="#fff" />
<rect x="471.2" y="357.1" width="1.2" height="3.9" fill="#fff" />
<rect x="476" y="362.8" width="4" height="6.2" fill="#fff" />
<rect x="477.2" y="357.1" width="1.2" height="3.9" fill="#fff" />
<rect x="482" y="362.8" width="4" height="6.2" fill="#fff" />
<rect x="483.2" y="357.1" width="1.2" height="3.9" fill="#fff" />
<rect x="488" y="362.8" width="4" height="6.2" fill="#fff" />
<rect x="489.2" y="357.1" width="1.2" height="3.9" fill="#fff" />
<rect x="491.4" y="363.5" width="1" height="5.5" fill="#fff" />
<rect x="293.5" y="374.5" width="225" height="17.5" fill="#fff" stroke="#000" stroke-width="1"/>
<rect x="292.5" y="381" width="7.5" height="7.5" fill="#fff" stroke="#000" stroke-width="1.2"/>
<rect x="300" y="374" width="3.8" height="16.7" fill="#000" />
<path d="M303.8,375.6 h7.5 v4.2 h2.5 v9 h-10" fill="#fff" stroke="#000" stroke-width="1.2"/>
<path d="M306,378.5 v3 h4.4 v-2" fill="none" stroke="#000" stroke-width="1.2"/>
<rect x="510.3" y="380.5" width="8.2" height="7.5" fill="#fff" stroke="#000" stroke-width="1.2"/>
<rect x="507" y="374" width="2.6" height="16.7" fill="#000" />
<path d="M507,375.6 h-7.3 v4.2 h-2.5 v9 h9.8" fill="#fff" stroke="#000" stroke-width="1.2"/>
<path d="M504.8,378.5 v3 h-4.4 v-2" fill="none" stroke="#000" stroke-width="1.2"/>
<rect x="318" y="376.2" width="175" height="6.8" fill="#000" />
<rect x="317" y="382.6" width="176.8" height="7.2" fill="#000" />
<rect x="318" y="383" width="1" height="6" fill="#fff" />
<rect x="320" y="382.8" width="4" height="6.2" fill="#fff" />
<rect x="321.2" y="377.1" width="1.2" height="3.9" fill="#fff" />
<rect x="326" y="382.8" width="4" height="6.2" fill="#fff" />
<rect x="327.2" y="377.1" width="1.2" height="3.9" fill="#fff" />
<rect x="332" y="382.8" width="4" height="6.2" fill="#fff" />
<rect x="333.2" y="377.1" width="1.2" height="3.9" fill="#fff" />
<rect x="338" y="382.8" width="4" height="6.2" fill="#fff" />
<rect x="339.2" y="377.1" width="1.2" height="3.9" fill="#fff" />
<rect x="344" y="382.8" width="4" height="6.2" fill="#fff" />
<rect x="345.2" y="377.1" width="1.2" height="3.9" fill="#fff" />
<rect x="350" y="382.8" width="4" height="6.2" fill="#fff" />
<rect x="351.2" y="377.1" width="1.2" height="3.9" fill="#fff" />
<rect x="356" y="382.8" width="4" height="6.2" fill="#fff" />
<rect x="357.2" y="377.1" width="1.2" height="3.9" fill="#fff" />
<rect x="362" y="382.8" width="4" height="6.2" fill="#fff" />
<rect x="363.2" y="377.1" width="1.2" height="3.9" fill="#fff" />
<rect x="368" y="382.8" width="4" height="6.2" fill="#fff" />
<rect x="369.2" y="377.1" width="1.2" height="3.9" fill="#fff" />
<rect x="374" y="382.8" width="4" height="6.2" fill="#fff" />
<rect x="375.2" y="377.1" width="1.2" height="3.9" fill="#fff" />
<rect x="380" y="382.8" width="4" height="6.2" fill="#fff" />
<rect x="381.2" y="377.1" width="1.2" height="3.9" fill="#fff" />
<rect x="386" y="382.8" width="4" height="6.2" fill="#fff" />
<rect x="387.2" y="377.1" width="1.2" height="3.9" fill="#fff" />
<rect x="392" y="382.8" width="4" height="6.2" fill="#fff" />
<rect x="393.2" y="377.1" width="1.2" height="3.9" fill="#fff" />
<rect x="398" y="382.8" width="4" height="6.2" fill="#fff" />
<rect x="399.2" y="377.1" width="1.2" height="3.9" fill="#fff" />
<rect x="404" y="382.8" width="4" height="6.2" fill="#fff" />
<rect x="405.2" y="377.1" width="1.2" height="3.9" fill="#fff" />
<rect x="410" y="382.8" width="4" height="6.2" fill="#fff" />
<rect x="411.2" y="377.1" width="1.2" height="3.9" fill="#fff" />
<rect x="416" y="382.8" width="4" height="6.2" fill="#fff" />
<rect x="417.2" y="377.1" width="1.2" height="3.9" fill="#fff" />
<rect x="422" y="382.8" width="4" height="6.2" fill="#fff" />
<rect x="423.2" y="377.1" width="1.2" height="3.9" fill="#fff" />
<rect x="428" y="382.8" width="4" height="6.2" fill="#fff" />
<rect x="429.2" y="377.1" width="1.2" height="3.9" fill="#fff" />
<rect x="434" y="382.8" width="4" height="6.2" fill="#fff" />
<rect x="435.2" y="377.1" width="1.2" height="3.9" fill="#fff" />
<rect x="440" y="382.8" width="4" height="6.2" fill="#fff" />
<rect x="441.2" y="377.1" width="1.2" height="3.9" fill="#fff" />
<rect x="446" y="382.8" width="4" height="6.2" fill="#fff" />
<rect x="447.2" y="377.1" width="1.2" height="3.9" fill="#fff" />
<rect x="452" y="382.8" width="4" height="6.2" fill="#fff" />
<rect x="453.2" y="377.1" width="1.2" height="3.9" fill="#fff" />
<rect x="458" y="382.8" width="4" height="6.2" fill="#fff" />
<rect x="459.2" y="377.1" width="1.2" height="3.9" fill="#fff" />
<rect x="464" y="382.8" width="4" height="6.2" fill="#fff" />
<rect x="465.2" y="377.1" width="1.2" height="3.9" fill="#fff" />
<rect x="470" y="382.8" width="4" height="6.2" fill="#fff" />
<rect x="471.2" y="377.1" width="1.2" height="3.9" fill="#fff" />
<rect x="476" y="382.8" width="4" height="6.2" fill="#fff" />
<rect x="477.2" y="377.1" width="1.2" height="3.9" fill="#fff" />
<rect x="482" y="382.8" width="4" height="6.2" fill="#fff" />
<rect x="483.2" y="377.1" width="1.2" height="3.9" fill="#fff" />
<rect x="488" y="382.8" width="4" height="6.2" fill="#fff" />
<rect x="489.2" y="377.1" width="1.2" height="3.9" fill="#fff" />
<rect x="491.4" y="383.5" width="1" height="5.5" fill="#fff" />
<rect x="293.5" y="394.5" width="225" height="17.5" fill="#fff" stroke="#000" stroke-width="1"/>
<rect x="292.5" y="401" width="7.5" height="7.5" fill="#fff" stroke="#000" stroke-width="1.2"/>
<rect x="300" y="394" width="3.8" height="16.7" fill="#000" />
<path d="M303.8,395.6 h7.5 v4.2 h2.5 v9 h-10" fill="#fff" stroke="#000" stroke-width="1.2"/>
<path d="M306,398.5 v3 h4.4 v-2" fill="none" stroke="#000" stroke-width="1.2"/>
<rect x="510.3" y="400.5" width="8.2" height="7.5" fill="#fff" stroke="#000" stroke-width="1.2"/>
<rect x="507" y="394" width="2.6" height="16.7" fill="#000" />
<path d="M507,395.6 h-7.3 v4.2 h-2.5 v9 h9.8" fill="#fff" stroke="#000" stroke-width="1.2"/>
<path d="M504.8,398.5 v3 h-4.4 v-2" fill="none" stroke="#000" stroke-width="1.2"/>
<rect x="318" y="396.2" width="175" height="6.8" fill="#000" />
<rect x="317" y="402.6" width="176.8" height="7.2" fill="#000" />
<rect x="318" y="403" width="1" height="6" fill="#fff" />
<rect x="320" y="402.8" width="4" height="6.2" fill="#fff" />
<rect x="321.2" y="397.1" width="1.2" height="3.9" fill="#fff" />
<rect x="326" y="402.8" width="4" height="6.2" fill="#fff" />
<rect x="327.2" y="397.1" width="1.2" height="3.9" fill="#fff" />
<rect x="332" y="402.8" width="4" height="6.2" fill="#fff" />
<rect x="333.2" y="397.1" width="1.2" height="3.9" fill="#fff" />
<rect x="338" y="402.8" width="4" height="6.2" fill="#fff" />
<rect x="339.2" y="397.1" width="1.2" height="3.9" fill="#fff" />
<rect x="344" y="402.8" width="4" height="6.2" fill="#fff" />
<rect x="345.2" y="397.1" width="1.2" height="3.9" fill="#fff" />
<rect x="350" y="402.8" width="4" height="6.2" fill="#fff" />
<rect x="351.2" y="397.1" width="1.2" height="3.9" fill="#fff" />
<rect x="356" y="402.8" width="4" height="6.2" fill="#fff" />
<rect x="357.2" y="397.1" width="1.2" height="3.9" fill="#fff" />
<rect x="362" y="402.8" width="4" height="6.2" fill="#fff" />
<rect x="363.2" y="397.1" width="1.2" height="3.9" fill="#fff" />
<rect x="368" y="402.8" width="4" height="6.2" fill="#fff" />
<rect x="369.2" y="397.1" width="1.2" height="3.9" fill="#fff" />
<rect x="374" y="402.8" width="4" height="6.2" fill="#fff" />
<rect x="375.2" y="397.1" width="1.2" height="3.9" fill="#fff" />
<rect x="380" y="402.8" width="4" height="6.2" fill="#fff" />
<rect x="381.2" y="397.1" width="1.2" height="3.9" fill="#fff" />
<rect x="386" y="402.8" width="4" height="6.2" fill="#fff" />
<rect x="387.2" y="397.1" width="1.2" height="3.9" fill="#fff" />
<rect x="392" y="402.8" width="4" height="6.2" fill="#fff" />
<rect x="393.2" y="397.1" width="1.2" height="3.9" fill="#fff" />
<rect x="398" y="402.8" width="4" height="6.2" fill="#fff" />
<rect x="399.2" y="397.1" width="1.2" height="3.9" fill="#fff" />
<rect x="404" y="402.8" width="4" height="6.2" fill="#fff" />
<rect x="405.2" y="397.1" width="1.2" height="3.9" fill="#fff" />
<rect x="410" y="402.8" width="4" height="6.2" fill="#fff" />
<rect x="411.2" y="397.1" width="1.2" height="3.9" fill="#fff" />
<rect x="416" y="402.8" width="4" height="6.2" fill="#fff" />
<rect x="417.2" y="397.1" width="1.2" height="3.9" fill="#fff" />
<rect x="422" y="402.8" width="4" height="6.2" fill="#fff" />
<rect x="423.2" y="397.1" width="1.2" height="3.9" fill="#fff" />
<rect x="428" y="402.8" width="4" height="6.2" fill="#fff" />
<rect x="429.2" y="397.1" width="1.2" height="3.9" fill="#fff" />
<rect x="434" y="402.8" width="4" height="6.2" fill="#fff" />
<rect x="435.2" y="397.1" width="1.2" height="3.9" fill="#fff" />
<rect x="440" y="402.8" width="4" height="6.2" fill="#fff" />
<rect x="441.2" y="397.1" width="1.2" height="3.9" fill="#fff" />
<rect x="446" y="402.8" width="4" height="6.2" fill="#fff" />
<rect x="447.2" y="397.1" width="1.2" height="3.9" fill="#fff" />
<rect x="452" y="402.8" width="4" height="6.2" fill="#fff" />
<rect x="453.2" y="397.1" width="1.2" height="3.9" fill="#fff" />
<rect x="458" y="402.8" width="4" height="6.2" fill="#fff" />
<rect x="459.2" y="397.1" width="1.2" height="3.9" fill="#fff" />
<rect x="464" y="402.8" width="4" height="6.2" fill="#fff" />
<rect x="465.2" y="397.1" width="1.2" height="3.9" fill="#fff" />
<rect x="470" y="402.8" width="4" height="6.2" fill="#fff" />
<rect x="471.2" y="397.1" width="1.2" height="3.9" fill="#fff" />
<rect x="476" y="402.8" width="4" height="6.2" fill="#fff" />
<rect x="477.2" y="397.1" width="1.2" height="3.9" fill="#fff" />
<rect x="482" y="402.8" width="4" height="6.2" fill="#fff" />
<rect x="483.2" y="397.1" width="1.2" height="3.9" fill="#fff" />
<rect x="488" y="402.8" width="4" height="6.2" fill="#fff" />
<rect x="489.2" y="397.1" width="1.2" height="3.9" fill="#fff" />
<rect x="491.4" y="403.5" width="1" height="5.5" fill="#fff" />
<rect x="293.5" y="414.5" width="225" height="17.5" fill="#fff" stroke="#000" stroke-width="1"/>
<rect x="292.5" y="421" width="7.5" height="7.5" fill="#fff" stroke="#000" stroke-width="1.2"/>
<rect x="300" y="414" width="3.8" height="16.7" fill="#000" />
<path d="M303.8,415.6 h7.5 v4.2 h2.5 v9 h-10" fill="#fff" stroke="#000" stroke-width="1.2"/>
<path d="M306,418.5 v3 h4.4 v-2" fill="none" stroke="#000" stroke-width="1.2"/>
<rect x="510.3" y="420.5" width="8.2" height="7.5" fill="#fff" stroke="#000" stroke-width="1.2"/>
<rect x="507" y="414" width="2.6" height="16.7" fill="#000" />
<path d="M507,415.6 h-7.3 v4.2 h-2.5 v9 h9.8" fill="#fff" stroke="#000" stroke-width="1.2"/>
<path d="M504.8,418.5 v3 h-4.4 v-2" fill="none" stroke="#000" stroke-width="1.2"/>
<rect x="318" y="416.2" width="175" height="6.8" fill="#000" />
<rect x="317" y="422.6" width="176.8" height="7.2" fill="#000" />
<rect x="318" y="423" width="1" height="6" fill="#fff" />
<rect x="320" y="422.8" width="4" height="6.2" fill="#fff" />
<rect x="321.2" y="417.1" width="1.2" height="3.9" fill="#fff" />
<rect x="326" y="422.8" width="4" height="6.2" fill="#fff" />
<rect x="327.2" y="417.1" width="1.2" height="3.9" fill="#fff" />
<rect x="332" y="422.8" width="4" height="6.2" fill="#fff" />
<rect x="333.2" y="417.1" width="1.2" height="3.9" fill="#fff" />
<rect x="338" y="422.8" width="4" height="6.2" fill="#fff" />
<rect x="339.2" y="417.1" width="1.2" height="3.9" fill="#fff" />
<rect x="344" y="422.8" width="4" height="6.2" fill="#fff" />
<rect x="345.2" y="417.1" width="1.2" height="3.9" fill="#fff" />
<rect x="350" y="422.8" width="4" height="6.2" fill="#fff" />
<rect x="351.2" y="417.1" width="1.2" height="3.9" fill="#fff" />
<rect x="356" y="422.8" width="4" height="6.2" fill="#fff" />
<rect x="357.2" y="417.1" width="1.2" height="3.9" fill="#fff" />
<rect x="362" y="422.8" width="4" height="6.2" fill="#fff" />
<rect x="363.2" y="417.1" width="1.2" height="3.9" fill="#fff" />
<rect x="368" y="422.8" width="4" height="6.2" fill="#fff" />
<rect x="369.2" y="417.1" width="1.2" height="3.9" fill="#fff" />
<rect x="374" y="422.8" width="4" height="6.2" fill="#fff" />
<rect x="375.2" y="417.1" width="1.2" height="3.9" fill="#fff" />
<rect x="380" y="422.8" width="4" height="6.2" fill="#fff" />
<rect x="381.2" y="417.1" width="1.2" height="3.9" fill="#fff" />
<rect x="386" y="422.8" width="4" height="6.2" fill="#fff" />
<rect x="387.2" y="417.1" width="1.2" height="3.9" fill="#fff" />
<rect x="392" y="422.8" width="4" height="6.2" fill="#fff" />
<rect x="393.2" y="417.1" width="1.2" height="3.9" fill="#fff" />
<rect x="398" y="422.8" width="4" height="6.2" fill="#fff" />
<rect x="399.2" y="417.1" width="1.2" height="3.9" fill="#fff" />
<rect x="404" y="422.8" width="4" height="6.2" fill="#fff" />
<rect x="405.2" y="417.1" width="1.2" height="3.9" fill="#fff" />
<rect x="410" y="422.8" width="4" height="6.2" fill="#fff" />
<rect x="411.2" y="417.1" width="1.2" height="3.9" fill="#fff" />
<rect x="416" y="422.8" width="4" height="6.2" fill="#fff" />
<rect x="417.2" y="417.1" width="1.2" height="3.9" fill="#fff" />
<rect x="422" y="422.8" width="4" height="6.2" fill="#fff" />
<rect x="423.2" y="417.1" width="1.2" height="3.9" fill="#fff" />
<rect x="428" y="422.8" width="4" height="6.2" fill="#fff" />
<rect x="429.2" y="417.1" width="1.2" height="3.9" fill="#fff" />
<rect x="434" y="422.8" width="4" height="6.2" fill="#fff" />
<rect x="435.2" y="417.1" width="1.2" height="3.9" fill="#fff" />
<rect x="440" y="422.8" width="4" height="6.2" fill="#fff" />
<rect x="441.2" y="417.1" width="1.2" height="3.9" fill="#fff" />
<rect x="446" y="422.8" width="4" height="6.2" fill="#fff" />
<rect x="447.2" y="417.1" width="1.2" height="3.9" fill="#fff" />
<rect x="452" y="422.8" width="4" height="6.2" fill="#fff" />
<rect x="453.2" y="417.1" width="1.2" height="3.9" fill="#fff" />
<rect x="458" y="422.8" width="4" height="6.2" fill="#fff" />
<rect x="459.2" y="417.1" width="1.2" height="3.9" fill="#fff" />
<rect x="464" y="422.8" width="4" height="6.2" fill="#fff" />
<rect x="465.2" y="417.1" width="1.2" height="3.9" fill="#fff" />
<rect x="470" y="422.8" width="4" height="6.2" fill="#fff" />
<rect x="471.2" y="417.1" width="1.2" height="3.9" fill="#fff" />
<rect x="476" y="422.8" width="4" height="6.2" fill="#fff" />
<rect x="477.2" y="417.1" width="1.2" height="3.9" fill="#fff" />
<rect x="482" y="422.8" width="4" height="6.2" fill="#fff" />
<rect x="483.2" y="417.1" width="1.2" height="3.9" fill="#fff" />
<rect x="488" y="422.8" width="4" height="6.2" fill="#fff" />
<rect x="489.2" y="417.1" width="1.2" height="3.9" fill="#fff" />
<rect x="491.4" y="423.5" width="1" height="5.5" fill="#fff" />
<rect x="294.5" y="440.5" width="225" height="17.5" fill="#fff" stroke="#000" stroke-width="1"/>
<rect x="293.5" y="447" width="7.5" height="7.5" fill="#fff" stroke="#000" stroke-width="1.2"/>
<rect x="301" y="440" width="3.8" height="16.7" fill="#000" />
<path d="M304.8,441.6 h7.5 v4.2 h2.5 v9 h-10" fill="#fff" stroke="#000" stroke-width="1.2"/>
<path d="M307,444.5 v3 h4.4 v-2" fill="none" stroke="#000" stroke-width="1.2"/>
<rect x="511.3" y="446.5" width="8.2" height="7.5" fill="#fff" stroke="#000" stroke-width="1.2"/>
<rect x="508" y="440" width="2.6" height="16.7" fill="#000" />
<path d="M508,441.6 h-7.3 v4.2 h-2.5 v9 h9.8" fill="#fff" stroke="#000" stroke-width="1.2"/>
<path d="M505.8,444.5 v3 h-4.4 v-2" fill="none" stroke="#000" stroke-width="1.2"/>
<rect x="320" y="442.2" width="174" height="6.8" fill="#000" />
<rect x="319" y="448.6" width="175.8" height="7.2" fill="#000" />
<rect x="322" y="448.8" width="4" height="6.2" fill="#fff" />
<rect x="323.2" y="443.1" width="1.2" height="3.9" fill="#fff" />
<rect x="328" y="448.8" width="4" height="6.2" fill="#fff" />
<rect x="329.2" y="443.1" width="1.2" height="3.9" fill="#fff" />
<rect x="334" y="448.8" width="4" height="6.2" fill="#fff" />
<rect x="335.2" y="443.1" width="1.2" height="3.9" fill="#fff" />
<rect x="340" y="448.8" width="4" height="6.2" fill="#fff" />
<rect x="341.2" y="443.1" width="1.2" height="3.9" fill="#fff" />
<rect x="346" y="448.8" width="4" height="6.2" fill="#fff" />
<rect x="347.2" y="443.1" width="1.2" height="3.9" fill="#fff" />
<rect x="352" y="448.8" width="4" height="6.2" fill="#fff" />
<rect x="353.2" y="443.1" width="1.2" height="3.9" fill="#fff" />
<rect x="358" y="448.8" width="4" height="6.2" fill="#fff" />
<rect x="359.2" y="443.1" width="1.2" height="3.9" fill="#fff" />
<rect x="364" y="448.8" width="4" height="6.2" fill="#fff" />
<rect x="365.2" y="443.1" width="1.2" height="3.9" fill="#fff" />
<rect x="370" y="448.8" width="4" height="6.2" fill="#fff" />
<rect x="371.2" y="443.1" width="1.2" height="3.9" fill="#fff" />
<rect x="376" y="448.8" width="4" height="6.2" fill="#fff" />
<rect x="377.2" y="443.1" width="1.2" height="3.9" fill="#fff" />
<rect x="382" y="448.8" width="4" height="6.2" fill="#fff" />
<rect x="383.2" y="443.1" width="1.2" height="3.9" fill="#fff" />
<rect x="388" y="448.8" width="4" height="6.2" fill="#fff" />
<rect x="389.2" y="443.1" width="1.2" height="3.9" fill="#fff" />
<rect x="394" y="448.8" width="4" height="6.2" fill="#fff" />
<rect x="395.2" y="443.1" width="1.2" height="3.9" fill="#fff" />
<rect x="400" y="448.8" width="4" height="6.2" fill="#fff" />
<rect x="401.2" y="443.1" width="1.2" height="3.9" fill="#fff" />
<rect x="406" y="448.8" width="4" height="6.2" fill="#fff" />
<rect x="407.2" y="443.1" width="1.2" height="3.9" fill="#fff" />
<rect x="412" y="448.8" width="4" height="6.2" fill="#fff" />
<rect x="413.2" y="443.1" width="1.2" height="3.9" fill="#fff" />
<rect x="418" y="448.8" width="4" height="6.2" fill="#fff" />
<rect x="419.2" y="443.1" width="1.2" height="3.9" fill="#fff" />
<rect x="424" y="448.8" width="4" height="6.2" fill="#fff" />
<rect x="425.2" y="443.1" width="1.2" height="3.9" fill="#fff" />
<rect x="430" y="448.8" width="4" height="6.2" fill="#fff" />
<rect x="431.2" y="443.1" width="1.2" height="3.9" fill="#fff" />
<rect x="436" y="448.8" width="4" height="6.2" fill="#fff" />
<rect x="437.2" y="443.1" width="1.2" height="3.9" fill="#fff" />
<rect x="442" y="448.8" width="4" height="6.2" fill="#fff" />
<rect x="443.2" y="443.1" width="1.2" height="3.9" fill="#fff" />
<rect x="448" y="448.8" width="4" height="6.2" fill="#fff" />
<rect x="449.2" y="443.1" width="1.2" height="3.9" fill="#fff" />
<rect x="454" y="448.8" width="4" height="6.2" fill="#fff" />
<rect x="455.2" y="443.1" width="1.2" height="3.9" fill="#fff" />
<rect x="460" y="448.8" width="4" height="6.2" fill="#fff" />
<rect x="461.2" y="443.1" width="1.2" height="3.9" fill="#fff" />
<rect x="466" y="448.8" width="4" height="6.2" fill="#fff" />
<rect x="467.2" y="443.1" width="1.2" height="3.9" fill="#fff" />
<rect x="472" y="448.8" width="4" height="6.2" fill="#fff" />
<rect x="473.2" y="443.1" width="1.2" height="3.9" fill="#fff" />
<rect x="478" y="448.8" width="4" height="6.2" fill="#fff" />
<rect x="479.2" y="443.1" width="1.2" height="3.9" fill="#fff" />
<rect x="484" y="448.8" width="4" height="6.2" fill="#fff" />
<rect x="485.2" y="443.1" width="1.2" height="3.9" fill="#fff" />
<rect x="490" y="448.8" width="4" height="6.2" fill="#fff" />
<rect x="491.2" y="443.1" width="1.2" height="3.9" fill="#fff" />
<rect x="492.4" y="449.5" width="1" height="5.5" fill="#fff" />
<rect x="294.5" y="460.5" width="225" height="17.5" fill="#fff" stroke="#000" stroke-width="1"/>
<rect x="293.5" y="467" width="7.5" height="7.5" fill="#fff" stroke="#000" stroke-width="1.2"/>
<rect x="301" y="460" width="3.8" height="16.7" fill="#000" />
<path d="M304.8,461.6 h7.5 v4.2 h2.5 v9 h-10" fill="#fff" stroke="#000" stroke-width="1.2"/>
<path d="M307,464.5 v3 h4.4 v-2" fill="none" stroke="#000" stroke-width="1.2"/>
<rect x="511.3" y="466.5" width="8.2" height="7.5" fill="#fff" stroke="#000" stroke-width="1.2"/>
<rect x="508" y="460" width="2.6" height="16.7" fill="#000" />
<path d="M508,461.6 h-7.3 v4.2 h-2.5 v9 h9.8" fill="#fff" stroke="#000" stroke-width="1.2"/>
<path d="M505.8,464.5 v3 h-4.4 v-2" fill="none" stroke="#000" stroke-width="1.2"/>
<rect x="320" y="462.2" width="174" height="6.8" fill="#000" />
<rect x="319" y="468.6" width="175.8" height="7.2" fill="#000" />
<rect x="322" y="468.8" width="4" height="6.2" fill="#fff" />
<rect x="323.2" y="463.1" width="1.2" height="3.9" fill="#fff" />
<rect x="328" y="468.8" width="4" height="6.2" fill="#fff" />
<rect x="329.2" y="463.1" width="1.2" height="3.9" fill="#fff" />
<rect x="334" y="468.8" width="4" height="6.2" fill="#fff" />
<rect x="335.2" y="463.1" width="1.2" height="3.9" fill="#fff" />
<rect x="340" y="468.8" width="4" height="6.2" fill="#fff" />
<rect x="341.2" y="463.1" width="1.2" height="3.9" fill="#fff" />
<rect x="346" y="468.8" width="4" height="6.2" fill="#fff" />
<rect x="347.2" y="463.1" width="1.2" height="3.9" fill="#fff" />
<rect x="352" y="468.8" width="4" height="6.2" fill="#fff" />
<rect x="353.2" y="463.1" width="1.2" height="3.9" fill="#fff" />
<rect x="358" y="468.8" width="4" height="6.2" fill="#fff" />
<rect x="359.2" y="463.1" width="1.2" height="3.9" fill="#fff" />
<rect x="364" y="468.8" width="4" height="6.2" fill="#fff" />
<rect x="365.2" y="463.1" width="1.2" height="3.9" fill="#fff" />
<rect x="370" y="468.8" width="4" height="6.2" fill="#fff" />
<rect x="371.2" y="463.1" width="1.2" height="3.9" fill="#fff" />
<rect x="376" y="468.8" width="4" height="6.2" fill="#fff" />
<rect x="377.2" y="463.1" width="1.2" height="3.9" fill="#fff" />
<rect x="382" y="468.8" width="4" height="6.2" fill="#fff" />
<rect x="383.2" y="463.1" width="1.2" height="3.9" fill="#fff" />
<rect x="388" y="468.8" width="4" height="6.2" fill="#fff" />
<rect x="389.2" y="463.1" width="1.2" height="3.9" fill="#fff" />
<rect x="394" y="468.8" width="4" height="6.2" fill="#fff" />
<rect x="395.2" y="463.1" width="1.2" height="3.9" fill="#fff" />
<rect x="400" y="468.8" width="4" height="6.2" fill="#fff" />
<rect x="401.2" y="463.1" width="1.2" height="3.9" fill="#fff" />
<rect x="406" y="468.8" width="4" height="6.2" fill="#fff" />
<rect x="407.2" y="463.1" width="1.2" height="3.9" fill="#fff" />
<rect x="412" y="468.8" width="4" height="6.2" fill="#fff" />
<rect x="413.2" y="463.1" width="1.2" height="3.9" fill="#fff" />
<rect x="418" y="468.8" width="4" height="6.2" fill="#fff" />
<rect x="419.2" y="463.1" width="1.2" height="3.9" fill="#fff" />
<rect x="424" y="468.8" width="4" height="6.2" fill="#fff" />
<rect x="425.2" y="463.1" width="1.2" height="3.9" fill="#fff" />
<rect x="430" y="468.8" width="4" height="6.2" fill="#fff" />
<rect x="431.2" y="463.1" width="1.2" height="3.9" fill="#fff" />
<rect x="436" y="468.8" width="4" height="6.2" fill="#fff" />
<rect x="437.2" y="463.1" width="1.2" height="3.9" fill="#fff" />
<rect x="442" y="468.8" width="4" height="6.2" fill="#fff" />
<rect x="443.2" y="463.1" width="1.2" height="3.9" fill="#fff" />
<rect x="448" y="468.8" width="4" height="6.2" fill="#fff" />
<rect x="449.2" y="463.1" width="1.2" height="3.9" fill="#fff" />
<rect x="454" y="468.8" width="4" height="6.2" fill="#fff" />
<rect x="455.2" y="463.1" width="1.2" height="3.9" fill="#fff" />
<rect x="460" y="468.8" width="4" height="6.2" fill="#fff" />
<rect x="461.2" y="463.1" width="1.2" height="3.9" fill="#fff" />
<rect x="466" y="468.8" width="4" height="6.2" fill="#fff" />
<rect x="467.2" y="463.1" width="1.2" height="3.9" fill="#fff" />
<rect x="472" y="468.8" width="4" height="6.2" fill="#fff" />
<rect x="473.2" y="463.1" width="1.2" height="3.9" fill="#fff" />
<rect x="478" y="468.8" width="4" height="6.2" fill="#fff" />
<rect x="479.2" y="463.1" width="1.2" height="3.9" fill="#fff" />
<rect x="484" y="468.8" width="4" height="6.2" fill="#fff" />
<rect x="485.2" y="463.1" width="1.2" height="3.9" fill="#fff" />
<rect x="490" y="468.8" width="4" height="6.2" fill="#fff" />
<rect x="491.2" y="463.1" width="1.2" height="3.9" fill="#fff" />
<rect x="492.4" y="469.5" width="1" height="5.5" fill="#fff" />
<rect x="294.5" y="480.5" width="225" height="17.5" fill="#fff" stroke="#000" stroke-width="1"/>
<rect x="293.5" y="487" width="7.5" height="7.5" fill="#fff" stroke="#000" stroke-width="1.2"/>
<rect x="301" y="480" width="3.8" height="16.7" fill="#000" />
<path d="M304.8,481.6 h7.5 v4.2 h2.5 v9 h-10" fill="#fff" stroke="#000" stroke-width="1.2"/>
<path d="M307,484.5 v3 h4.4 v-2" fill="none" stroke="#000" stroke-width="1.2"/>
<rect x="511.3" y="486.5" width="8.2" height="7.5" fill="#fff" stroke="#000" stroke-width="1.2"/>
<rect x="508" y="480" width="2.6" height="16.7" fill="#000" />
<path d="M508,481.6 h-7.3 v4.2 h-2.5 v9 h9.8" fill="#fff" stroke="#000" stroke-width="1.2"/>
<path d="M505.8,484.5 v3 h-4.4 v-2" fill="none" stroke="#000" stroke-width="1.2"/>
<rect x="320" y="482.2" width="174" height="6.8" fill="#000" />
<rect x="319" y="488.6" width="175.8" height="7.2" fill="#000" />
<rect x="322" y="488.8" width="4" height="6.2" fill="#fff" />
<rect x="323.2" y="483.1" width="1.2" height="3.9" fill="#fff" />
<rect x="328" y="488.8" width="4" height="6.2" fill="#fff" />
<rect x="329.2" y="483.1" width="1.2" height="3.9" fill="#fff" />
<rect x="334" y="488.8" width="4" height="6.2" fill="#fff" />
<rect x="335.2" y="483.1" width="1.2" height="3.9" fill="#fff" />
<rect x="340" y="488.8" width="4" height="6.2" fill="#fff" />
<rect x="341.2" y="483.1" width="1.2" height="3.9" fill="#fff" />
<rect x="346" y="488.8" width="4" height="6.2" fill="#fff" />
<rect x="347.2" y="483.1" width="1.2" height="3.9" fill="#fff" />
<rect x="352" y="488.8" width="4" height="6.2" fill="#fff" />
<rect x="353.2" y="483.1" width="1.2" height="3.9" fill="#fff" />
<rect x="358" y="488.8" width="4" height="6.2" fill="#fff" />
<rect x="359.2" y="483.1" width="1.2" height="3.9" fill="#fff" />
<rect x="364" y="488.8" width="4" height="6.2" fill="#fff" />
<rect x="365.2" y="483.1" width="1.2" height="3.9" fill="#fff" />
<rect x="370" y="488.8" width="4" height="6.2" fill="#fff" />
<rect x="371.2" y="483.1" width="1.2" height="3.9" fill="#fff" />
<rect x="376" y="488.8" width="4" height="6.2" fill="#fff" />
<rect x="377.2" y="483.1" width="1.2" height="3.9" fill="#fff" />
<rect x="382" y="488.8" width="4" height="6.2" fill="#fff" />
<rect x="383.2" y="483.1" width="1.2" height="3.9" fill="#fff" />
<rect x="388" y="488.8" width="4" height="6.2" fill="#fff" />
<rect x="389.2" y="483.1" width="1.2" height="3.9" fill="#fff" />
<rect x="394" y="488.8" width="4" height="6.2" fill="#fff" />
<rect x="395.2" y="483.1" width="1.2" height="3.9" fill="#fff" />
<rect x="400" y="488.8" width="4" height="6.2" fill="#fff" />
<rect x="401.2" y="483.1" width="1.2" height="3.9" fill="#fff" />
<rect x="406" y="488.8" width="4" height="6.2" fill="#fff" />
<rect x="407.2" y="483.1" width="1.2" height="3.9" fill="#fff" />
<rect x="412" y="488.8" width="4" height="6.2" fill="#fff" />
<rect x="413.2" y="483.1" width="1.2" height="3.9" fill="#fff" />
<rect x="418" y="488.8" width="4" height="6.2" fill="#fff" />
<rect x="419.2" y="483.1" width="1.2" height="3.9" fill="#fff" />
<rect x="424" y="488.8" width="4" height="6.2" fill="#fff" />
<rect x="425.2" y="483.1" width="1.2" height="3.9" fill="#fff" />
<rect x="430" y="488.8" width="4" height="6.2" fill="#fff" />
<rect x="431.2" y="483.1" width="1.2" height="3.9" fill="#fff" />
<rect x="436" y="488.8" width="4" height="6.2" fill="#fff" />
<rect x="437.2" y="483.1" width="1.2" height="3.9" fill="#fff" />
<rect x="442" y="488.8" width="4" height="6.2" fill="#fff" />
<rect x="443.2" y="483.1" width="1.2" height="3.9" fill="#fff" />
<rect x="448" y="488.8" width="4" height="6.2" fill="#fff" />
<rect x="449.2" y="483.1" width="1.2" height="3.9" fill="#fff" />
<rect x="454" y="488.8" width="4" height="6.2" fill="#fff" />
<rect x="455.2" y="483.1" width="1.2" height="3.9" fill="#fff" />
<rect x="460" y="488.8" width="4" height="6.2" fill="#fff" />
<rect x="461.2" y="483.1" width="1.2" height="3.9" fill="#fff" />
<rect x="466" y="488.8" width="4" height="6.2" fill="#fff" />
<rect x="467.2" y="483.1" width="1.2" height="3.9" fill="#fff" />
<rect x="472" y="488.8" width="4" height="6.2" fill="#fff" />
<rect x="473.2" y="483.1" width="1.2" height="3.9" fill="#fff" />
<rect x="478" y="488.8" width="4" height="6.2" fill="#fff" />
<rect x="479.2" y="483.1" width="1.2" height="3.9" fill="#fff" />
<rect x="484" y="488.8" width="4" height="6.2" fill="#fff" />
<rect x="485.2" y="483.1" width="1.2" height="3.9" fill="#fff" />
<rect x="490" y="488.8" width="4" height="6.2" fill="#fff" />
<rect x="491.2" y="483.1" width="1.2" height="3.9" fill="#fff" />
<rect x="492.4" y="489.5" width="1" height="5.5" fill="#fff" />
<rect x="294.5" y="500.5" width="225" height="17.5" fill="#fff" stroke="#000" stroke-width="1"/>
<rect x="293.5" y="507" width="7.5" height="7.5" fill="#fff" stroke="#000" stroke-width="1.2"/>
<rect x="301" y="500" width="3.8" height="16.7" fill="#000" />
<path d="M304.8,501.6 h7.5 v4.2 h2.5 v9 h-10" fill="#fff" stroke="#000" stroke-width="1.2"/>
<path d="M307,504.5 v3 h4.4 v-2" fill="none" stroke="#000" stroke-width="1.2"/>
<rect x="511.3" y="506.5" width="8.2" height="7.5" fill="#fff" stroke="#000" stroke-width="1.2"/>
<rect x="508" y="500" width="2.6" height="16.7" fill="#000" />
<path d="M508,501.6 h-7.3 v4.2 h-2.5 v9 h9.8" fill="#fff" stroke="#000" stroke-width="1.2"/>
<path d="M505.8,504.5 v3 h-4.4 v-2" fill="none" stroke="#000" stroke-width="1.2"/>
<rect x="320" y="502.2" width="174" height="6.8" fill="#000" />
<rect x="319" y="508.6" width="175.8" height="7.2" fill="#000" />
<rect x="322" y="508.8" width="4" height="6.2" fill="#fff" />
<rect x="323.2" y="503.1" width="1.2" height="3.9" fill="#fff" />
<rect x="328" y="508.8" width="4" height="6.2" fill="#fff" />
<rect x="329.2" y="503.1" width="1.2" height="3.9" fill="#fff" />
<rect x="334" y="508.8" width="4" height="6.2" fill="#fff" />
<rect x="335.2" y="503.1" width="1.2" height="3.9" fill="#fff" />
<rect x="340" y="508.8" width="4" height="6.2" fill="#fff" />
<rect x="341.2" y="503.1" width="1.2" height="3.9" fill="#fff" />
<rect x="346" y="508.8" width="4" height="6.2" fill="#fff" />
<rect x="347.2" y="503.1" width="1.2" height="3.9" fill="#fff" />
<rect x="352" y="508.8" width="4" height="6.2" fill="#fff" />
<rect x="353.2" y="503.1" width="1.2" height="3.9" fill="#fff" />
<rect x="358" y="508.8" width="4" height="6.2" fill="#fff" />
<rect x="359.2" y="503.1" width="1.2" height="3.9" fill="#fff" />
<rect x="364" y="508.8" width="4" height="6.2" fill="#fff" />
<rect x="365.2" y="503.1" width="1.2" height="3.9" fill="#fff" />
<rect x="370" y="508.8" width="4" height="6.2" fill="#fff" />
<rect x="371.2" y="503.1" width="1.2" height="3.9" fill="#fff" />
<rect x="376" y="508.8" width="4" height="6.2" fill="#fff" />
<rect x="377.2" y="503.1" width="1.2" height="3.9" fill="#fff" />
<rect x="382" y="508.8" width="4" height="6.2" fill="#fff" />
<rect x="383.2" y="503.1" width="1.2" height="3.9" fill="#fff" />
<rect x="388" y="508.8" width="4" height="6.2" fill="#fff" />
<rect x="389.2" y="503.1" width="1.2" height="3.9" fill="#fff" />
<rect x="394" y="508.8" width="4" height="6.2" fill="#fff" />
<rect x="395.2" y="503.1" width="1.2" height="3.9" fill="#fff" />
<rect x="400" y="508.8" width="4" height="6.2" fill="#fff" />
<rect x="401.2" y="503.1" width="1.2" height="3.9" fill="#fff" />
<rect x="406" y="508.8" width="4" height="6.2" fill="#fff" />
<rect x="407.2" y="503.1" width="1.2" height="3.9" fill="#fff" />
<rect x="412" y="508.8" width="4" height="6.2" fill="#fff" />
<rect x="413.2" y="503.1" width="1.2" height="3.9" fill="#fff" />
<rect x="418" y="508.8" width="4" height="6.2" fill="#fff" />
<rect x="419.2" y="503.1" width="1.2" height="3.9" fill="#fff" />
<rect x="424" y="508.8" width="4" height="6.2" fill="#fff" />
<rect x="425.2" y="503.1" width="1.2" height="3.9" fill="#fff" />
<rect x="430" y="508.8" width="4" height="6.2" fill="#fff" />
<rect x="431.2" y="503.1" width="1.2" height="3.9" fill="#fff" />
<rect x="436" y="508.8" width="4" height="6.2" fill="#fff" />
<rect x="437.2" y="503.1" width="1.2" height="3.9" fill="#fff" />
<rect x="442" y="508.8" width="4" height="6.2" fill="#fff" />
<rect x="443.2" y="503.1" width="1.2" height="3.9" fill="#fff" />
<rect x="448" y="508.8" width="4" height="6.2" fill="#fff" />
<rect x="449.2" y="503.1" width="1.2" height="3.9" fill="#fff" />
<rect x="454" y="508.8" width="4" height="6.2" fill="#fff" />
<rect x="455.2" y="503.1" width="1.2" height="3.9" fill="#fff" />
<rect x="460" y="508.8" width="4" height="6.2" fill="#fff" />
<rect x="461.2" y="503.1" width="1.2" height="3.9" fill="#fff" />
<rect x="466" y="508.8" width="4" height="6.2" fill="#fff" />
<rect x="467.2" y="503.1" width="1.2" height="3.9" fill="#fff" />
<rect x="472" y="508.8" width="4" height="6.2" fill="#fff" />
<rect x="473.2" y="503.1" width="1.2" height="3.9" fill="#fff" />
<rect x="478" y="508.8" width="4" height="6.2" fill="#fff" />
<rect x="479.2" y="503.1" width="1.2" height="3.9" fill="#fff" />
<rect x="484" y="508.8" width="4" height="6.2" fill="#fff" />
<rect x="485.2" y="503.1" width="1.2" height="3.9" fill="#fff" />
<rect x="490" y="508.8" width="4" height="6.2" fill="#fff" />
<rect x="491.2" y="503.1" width="1.2" height="3.9" fill="#fff" />
<rect x="492.4" y="509.5" width="1" height="5.5" fill="#fff" />
<rect x="376.5" y="384.6" width="57.8" height="16.6" rx="2" ry="2" fill="#000" shape-rendering="geometricPrecision"/>
<rect x="378" y="386.1" width="54.7" height="13.6" rx="0.6" ry="0.6" fill="#fff" shape-rendering="geometricPrecision"/>
<rect x="378" y="470.6" width="57.7" height="16.9" rx="2" ry="2" fill="#000" shape-rendering="geometricPrecision"/>
<rect x="379.5" y="472.1" width="54.6" height="13.9" rx="0.6" ry="0.6" fill="#fff" shape-rendering="geometricPrecision"/>
<rect x="578.5" y="389.5" width="24" height="112" fill="#fff" stroke="#000" stroke-width="1"/>
<rect x="589.3" y="389" width="1" height="113" fill="#000" />
<rect x="594.2" y="389" width="1" height="113" fill="#000" />
<rect x="582.5" y="388.5" width="5.5" height="1.5" fill="#fff" />
<rect x="582" y="389" width="1" height="3.5" fill="#000" />
<rect x="588" y="389" width="1" height="3.5" fill="#000" />
<rect x="582" y="391.5" width="7" height="1.2" fill="#000" />
<rect x="582.5" y="501" width="5.5" height="1.5" fill="#fff" />
<rect x="582" y="498.5" width="1" height="3.5" fill="#000" />
<rect x="588" y="498.5" width="1" height="3.5" fill="#000" />
<rect x="582" y="498.3" width="7" height="1.2" fill="#000" />
<rect x="582.6" y="395.7" width="5.9" height="5.8" fill="#fff" stroke="#000" stroke-width="1.2"/>
<rect x="590.5" y="391.6" width="2" height="6" fill="#fff" stroke="#000" stroke-width="1"/>
<rect x="595" y="393.6" width="2.2" height="2" fill="#000" />
<rect x="597" y="391.3" width="2.5" height="6.6" fill="#000" />
<rect x="596" y="392.8" width="4.3" height="3.6" fill="#000" />
<rect x="582.6" y="405.3" width="5.9" height="5.8" fill="#fff" stroke="#000" stroke-width="1.2"/>
<rect x="590.5" y="401.2" width="2" height="6" fill="#fff" stroke="#000" stroke-width="1"/>
<rect x="595" y="403.2" width="2.2" height="2" fill="#000" />
<rect x="597" y="400.9" width="2.5" height="6.6" fill="#000" />
<rect x="596" y="402.4" width="4.3" height="3.6" fill="#000" />
<rect x="582.6" y="414.7" width="5.9" height="5.8" fill="#fff" stroke="#000" stroke-width="1.2"/>
<rect x="590.5" y="410.6" width="2" height="6" fill="#fff" stroke="#000" stroke-width="1"/>
<rect x="595" y="412.6" width="2.2" height="2" fill="#000" />
<rect x="597" y="410.3" width="2.5" height="6.6" fill="#000" />
<rect x="596" y="411.8" width="4.3" height="3.6" fill="#000" />
<rect x="582.6" y="424" width="5.9" height="5.8" fill="#fff" stroke="#000" stroke-width="1.2"/>
<rect x="590.5" y="419.9" width="2" height="6" fill="#fff" stroke="#000" stroke-width="1"/>
<rect x="595" y="421.9" width="2.2" height="2" fill="#000" />
<rect x="597" y="419.6" width="2.5" height="6.6" fill="#000" />
<rect x="596" y="421.1" width="4.3" height="3.6" fill="#000" />
<rect x="582.6" y="433.2" width="5.9" height="5.8" fill="#fff" stroke="#000" stroke-width="1.2"/>
<rect x="590.5" y="429.1" width="2" height="6" fill="#fff" stroke="#000" stroke-width="1"/>
<rect x="595" y="431.1" width="2.2" height="2" fill="#000" />
<rect x="597" y="428.8" width="2.5" height="6.6" fill="#000" />
<rect x="596" y="430.3" width="4.3" height="3.6" fill="#000" />
<rect x="582.6" y="442.7" width="5.9" height="5.8" fill="#fff" stroke="#000" stroke-width="1.2"/>
<rect x="590.5" y="438.6" width="2" height="6" fill="#fff" stroke="#000" stroke-width="1"/>
<rect x="595" y="440.6" width="2.2" height="2" fill="#000" />
<rect x="597" y="438.3" width="2.5" height="6.6" fill="#000" />
<rect x="596" y="439.8" width="4.3" height="3.6" fill="#000" />
<rect x="582.6" y="451.8" width="5.9" height="5.8" fill="#fff" stroke="#000" stroke-width="1.2"/>
<rect x="590.5" y="447.7" width="2" height="6" fill="#fff" stroke="#000" stroke-width="1"/>
<rect x="595" y="449.7" width="2.2" height="2" fill="#000" />
<rect x="597" y="447.4" width="2.5" height="6.6" fill="#000" />
<rect x="596" y="448.9" width="4.3" height="3.6" fill="#000" />
<rect x="582.6" y="461" width="5.9" height="5.8" fill="#fff" stroke="#000" stroke-width="1.2"/>
<rect x="590.5" y="456.9" width="2" height="6" fill="#fff" stroke="#000" stroke-width="1"/>
<rect x="595" y="458.9" width="2.2" height="2" fill="#000" />
<rect x="597" y="456.6" width="2.5" height="6.6" fill="#000" />
<rect x="596" y="458.1" width="4.3" height="3.6" fill="#000" />
<rect x="582.6" y="470.1" width="5.9" height="5.8" fill="#fff" stroke="#000" stroke-width="1.2"/>
<rect x="590.5" y="466" width="2" height="6" fill="#fff" stroke="#000" stroke-width="1"/>
<rect x="595" y="468" width="2.2" height="2" fill="#000" />
<rect x="597" y="465.7" width="2.5" height="6.6" fill="#000" />
<rect x="596" y="467.2" width="4.3" height="3.6" fill="#000" />
<rect x="582.6" y="479.1" width="5.9" height="5.8" fill="#fff" stroke="#000" stroke-width="1.2"/>
<rect x="590.5" y="475" width="2" height="6" fill="#fff" stroke="#000" stroke-width="1"/>
<rect x="595" y="477" width="2.2" height="2" fill="#000" />
<rect x="597" y="474.7" width="2.5" height="6.6" fill="#000" />
<rect x="596" y="476.2" width="4.3" height="3.6" fill="#000" />
<rect x="582.6" y="489.7" width="5.9" height="5.8" fill="#fff" stroke="#000" stroke-width="1.2"/>
<rect x="590.5" y="485.6" width="2" height="6" fill="#fff" stroke="#000" stroke-width="1"/>
<rect x="595" y="487.6" width="2.2" height="2" fill="#000" />
<rect x="597" y="485.3" width="2.5" height="6.6" fill="#000" />
<rect x="596" y="486.8" width="4.3" height="3.6" fill="#000" />
<polygon points="613,414.2 637,414.2 637,410.2 640.3,410.2 640.3,407.8 643,407.8 643,457.9 640.3,457.9 640.3,455.8 637,455.8 637,451.9 613,451.9" fill="#000"/>
<rect x="606.5" y="423.5" width="4" height="7.6" fill="#fff" stroke="#000" stroke-width="1"/>
<rect x="606.5" y="434.8" width="4" height="7.6" fill="#fff" stroke="#000" stroke-width="1"/>
<rect x="610" y="421" width="3" height="1" fill="#000" />
<rect x="610" y="421" width="1" height="11" fill="#000" />
<rect x="610" y="431.5" width="3" height="1" fill="#000" />
<rect x="610" y="434.3" width="3" height="1" fill="#000" />
<rect x="610" y="434.3" width="1" height="10.7" fill="#000" />
<rect x="610" y="444" width="3" height="1" fill="#000" />
<rect x="611.5" y="424" width="1.5" height="1" fill="#000" />
<rect x="611.5" y="426" width="1.5" height="1" fill="#000" />
<rect x="611.5" y="428" width="1.5" height="1" fill="#000" />
<rect x="611.5" y="437" width="1.5" height="1" fill="#000" />
<rect x="611.5" y="439" width="1.5" height="1" fill="#000" />
<rect x="611.5" y="441" width="1.5" height="1" fill="#000" />
<g opacity="0.999">
<text transform="translate(57.90,20.00) scale(0.8,1)" letter-spacing="-0.01" font-size="13" fill="#000" stroke="#000" stroke-width="0.1">H5</text>
<text transform="translate(96.00,64.90) scale(0.8,1)" letter-spacing="1.36" font-size="13" fill="#000" stroke="#000" stroke-width="0.1">H4</text>
<text transform="translate(83.00,83.80) scale(0.8,1)" letter-spacing="1.23" font-size="13" fill="#000" stroke="#000" stroke-width="0.1">H3</text>
<text transform="translate(13.60,98.70) scale(0.8,1)" letter-spacing="1.73" font-size="13" fill="#000" stroke="#000" stroke-width="0.1">H2</text>
<text transform="translate(83.00,112.80) scale(0.8,1)" letter-spacing="1.61" font-size="13" fill="#000" stroke="#000" stroke-width="0.1">H1</text>
<text transform="translate(12.90,127.60) scale(0.8,1)" letter-spacing="1.97" font-size="13" fill="#000" stroke="#000" stroke-width="0.1">J5</text>
<text transform="translate(85.00,155.80) scale(0.8,1)" letter-spacing="1.84" font-size="13" fill="#000" stroke="#000" stroke-width="0.1">J7</text>
<text transform="translate(54.20,167.80) scale(0.8,1)" letter-spacing="1.47" font-size="13" fill="#000" stroke="#000" stroke-width="0.1">J4</text>
<text transform="translate(141.00,189.00) scale(0.8,1)" letter-spacing="2.22" font-size="13" fill="#000" stroke="#000" stroke-width="0.1">J8</text>
<text transform="translate(218.90,289.10) scale(0.8,1)" letter-spacing="2.26" font-size="13" fill="#000" stroke="#000" stroke-width="0.1">JP3</text>
<text transform="translate(204.10,317.10) scale(0.8,1)" letter-spacing="2.26" font-size="13" fill="#000" stroke="#000" stroke-width="0.1">JP2</text>
<text transform="translate(596.60,84.70) scale(0.8,1)" letter-spacing="1.81" font-size="13" fill="#000" stroke="#000" stroke-width="0.1">CN1</text>
<text transform="translate(598.90,360.70) scale(0.8,1)" letter-spacing="1.95" font-size="13" fill="#000" stroke="#000" stroke-width="0.1">JP12</text>
<text transform="translate(528.90,502.80) scale(0.8,1)" letter-spacing="2.19" font-size="13" fill="#000" stroke="#000" stroke-width="0.1">JP1</text>
<text transform="translate(143.70,123.90) scale(0.8,1)" letter-spacing="1.42" font-size="13" fill="#000" stroke="#000" stroke-width="0.1">U26</text>
<text transform="translate(202.60,155.80) scale(0.8,1)" letter-spacing="1.13" font-size="13" fill="#000" stroke="#000" stroke-width="0.1">TAG</text>
<text transform="translate(126.00,321.80) scale(0.8,1)" letter-spacing="2.48" font-size="13" fill="#000" stroke="#000" stroke-width="0.1">U51</text>
<text transform="translate(129.20,443.70) scale(0.8,1)" letter-spacing="1.69" font-size="13" fill="#000" stroke="#000" stroke-width="0.1">CACHE</text>
<text transform="translate(81.80,469.60) scale(0.8,1)" letter-spacing="2.59" font-size="13" fill="#000" stroke="#000" stroke-width="0.1">BANK 0</text>
<text transform="translate(171.60,470.80) scale(0.8,1)" letter-spacing="2.02" font-size="13" fill="#000" stroke="#000" stroke-width="0.1">BANK 1</text>
<text transform="translate(381.70,397.80) scale(0.8,1)" letter-spacing="2.24" font-size="13" fill="#000" stroke="#000" stroke-width="0.1">BANK 1</text>
<text transform="translate(383.50,483.80) scale(0.8,1)" letter-spacing="2.22" font-size="13" fill="#000" stroke="#000" stroke-width="0.1">BANK 0</text>
<text transform="translate(449.00,63.10) scale(0.82,1)" letter-spacing="0.77" font-size="12.5" fill="#000" stroke="#000" stroke-width="0.1">MH1250</text>
</g>
</svg>
</body></html>
